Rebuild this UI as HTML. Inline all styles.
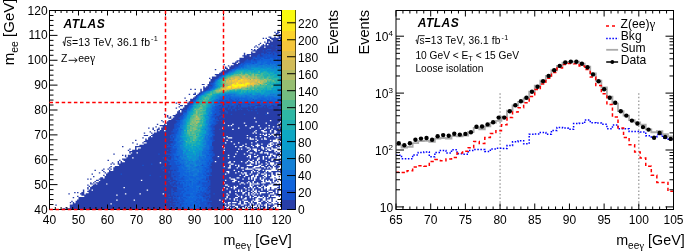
<!DOCTYPE html><html><head><meta charset="utf-8"><style>html,body{margin:0;padding:0;background:#fff;}svg{display:block}</style></head><body>
<svg xmlns="http://www.w3.org/2000/svg" width="685" height="252" viewBox="0 0 685 252" font-family="Liberation Sans, sans-serif" style="will-change:transform">
<g>
<path fill="#273da8" d="M62.55 208.26H65.45V209.50H62.55zM66.90 208.26H232.20V209.50H66.90zM233.65 208.26H238.00V209.50H233.65zM240.90 208.26H242.35V209.50H240.90zM245.25 208.26H246.70V209.50H245.25zM249.60 208.26H251.05V209.50H249.60zM252.50 208.26H253.95V209.50H252.50zM255.40 208.26H258.30V209.50H255.40zM259.75 208.26H264.10V209.50H259.75zM267.00 208.26H269.90V209.50H267.00zM271.35 208.26H275.70V209.50H271.35zM65.45 207.01H66.90V208.26H65.45zM69.80 207.01H226.40V208.26H69.80zM230.75 207.01H233.65V208.26H230.75zM235.10 207.01H236.55V208.26H235.10zM238.00 207.01H242.35V208.26H238.00zM243.80 207.01H245.25V208.26H243.80zM248.15 207.01H252.50V208.26H248.15zM253.95 207.01H256.85V208.26H253.95zM259.75 207.01H261.20V208.26H259.75zM262.65 207.01H265.55V208.26H262.65zM267.00 207.01H271.35V208.26H267.00zM272.80 207.01H274.25V208.26H272.80zM69.80 205.77H224.95V207.01H69.80zM226.40 205.77H227.85V207.01H226.40zM229.30 205.77H235.10V207.01H229.30zM238.00 205.77H245.25V207.01H238.00zM246.70 205.77H248.15V207.01H246.70zM249.60 205.77H251.05V207.01H249.60zM256.85 205.77H258.30V207.01H256.85zM259.75 205.77H265.55V207.01H259.75zM267.00 205.77H268.45V207.01H267.00zM269.90 205.77H272.80V207.01H269.90zM277.15 205.77H278.60V207.01H277.15zM280.05 205.77H281.50V207.01H280.05zM55.30 204.53H56.75V205.77H55.30zM69.80 204.53H229.30V205.77H69.80zM230.75 204.53H232.20V205.77H230.75zM235.10 204.53H240.90V205.77H235.10zM243.80 204.53H249.60V205.77H243.80zM251.05 204.53H255.40V205.77H251.05zM256.85 204.53H258.30V205.77H256.85zM259.75 204.53H261.20V205.77H259.75zM262.65 204.53H264.10V205.77H262.65zM267.00 204.53H274.25V205.77H267.00zM277.15 204.53H278.60V205.77H277.15zM280.05 204.53H281.50V205.77H280.05zM72.70 203.28H110.40V204.53H72.70zM111.85 203.28H224.95V204.53H111.85zM226.40 203.28H227.85V204.53H226.40zM229.30 203.28H238.00V204.53H229.30zM240.90 203.28H243.80V204.53H240.90zM246.70 203.28H249.60V204.53H246.70zM251.05 203.28H252.50V204.53H251.05zM253.95 203.28H256.85V204.53H253.95zM258.30 203.28H259.75V204.53H258.30zM261.20 203.28H265.55V204.53H261.20zM267.00 203.28H268.45V204.53H267.00zM271.35 203.28H272.80V204.53H271.35zM274.25 203.28H278.60V204.53H274.25zM69.80 202.04H71.25V203.28H69.80zM72.70 202.04H74.15V203.28H72.70zM75.60 202.04H223.50V203.28H75.60zM224.95 202.04H227.85V203.28H224.95zM230.75 202.04H232.20V203.28H230.75zM236.55 202.04H239.45V203.28H236.55zM240.90 202.04H243.80V203.28H240.90zM245.25 202.04H248.15V203.28H245.25zM249.60 202.04H251.05V203.28H249.60zM252.50 202.04H256.85V203.28H252.50zM261.20 202.04H267.00V203.28H261.20zM268.45 202.04H271.35V203.28H268.45zM277.15 202.04H278.60V203.28H277.15zM280.05 202.04H281.50V203.28H280.05zM71.25 200.79H72.70V202.04H71.25zM75.60 200.79H222.05V202.04H75.60zM223.50 200.79H239.45V202.04H223.50zM240.90 200.79H243.80V202.04H240.90zM248.15 200.79H251.05V202.04H248.15zM252.50 200.79H253.95V202.04H252.50zM258.30 200.79H261.20V202.04H258.30zM262.65 200.79H265.55V202.04H262.65zM267.00 200.79H268.45V202.04H267.00zM271.35 200.79H272.80V202.04H271.35zM275.70 200.79H277.15V202.04H275.70zM77.05 199.55H116.20V200.79H77.05zM117.65 199.55H133.60V200.79H117.65zM135.05 199.55H219.15V200.79H135.05zM220.60 199.55H233.65V200.79H220.60zM235.10 199.55H236.55V200.79H235.10zM238.00 199.55H242.35V200.79H238.00zM243.80 199.55H252.50V200.79H243.80zM253.95 199.55H255.40V200.79H253.95zM259.75 199.55H262.65V200.79H259.75zM265.55 199.55H267.00V200.79H265.55zM271.35 199.55H272.80V200.79H271.35zM78.50 198.31H224.95V199.55H78.50zM226.40 198.31H229.30V199.55H226.40zM230.75 198.31H233.65V199.55H230.75zM235.10 198.31H243.80V199.55H235.10zM246.70 198.31H255.40V199.55H246.70zM258.30 198.31H262.65V199.55H258.30zM265.55 198.31H269.90V199.55H265.55zM271.35 198.31H272.80V199.55H271.35zM280.05 198.31H281.50V199.55H280.05zM72.70 197.06H74.15V198.31H72.70zM78.50 197.06H226.40V198.31H78.50zM227.85 197.06H235.10V198.31H227.85zM238.00 197.06H240.90V198.31H238.00zM242.35 197.06H245.25V198.31H242.35zM246.70 197.06H249.60V198.31H246.70zM251.05 197.06H252.50V198.31H251.05zM253.95 197.06H256.85V198.31H253.95zM262.65 197.06H264.10V198.31H262.65zM265.55 197.06H267.00V198.31H265.55zM268.45 197.06H275.70V198.31H268.45zM77.05 195.82H78.50V197.06H77.05zM84.30 195.82H226.40V197.06H84.30zM227.85 195.82H238.00V197.06H227.85zM239.45 195.82H240.90V197.06H239.45zM242.35 195.82H249.60V197.06H242.35zM251.05 195.82H253.95V197.06H251.05zM256.85 195.82H258.30V197.06H256.85zM259.75 195.82H262.65V197.06H259.75zM264.10 195.82H268.45V197.06H264.10zM269.90 195.82H271.35V197.06H269.90zM278.60 195.82H280.05V197.06H278.60zM81.40 194.57H116.20V195.82H81.40zM117.65 194.57H227.85V195.82H117.65zM229.30 194.57H236.55V195.82H229.30zM238.00 194.57H245.25V195.82H238.00zM246.70 194.57H248.15V195.82H246.70zM249.60 194.57H252.50V195.82H249.60zM253.95 194.57H268.45V195.82H253.95zM269.90 194.57H274.25V195.82H269.90zM275.70 194.57H281.50V195.82H275.70zM68.35 193.33H69.80V194.57H68.35zM79.95 193.33H84.30V194.57H79.95zM85.75 193.33H124.90V194.57H85.75zM126.35 193.33H139.40V194.57H126.35zM140.85 193.33H162.60V194.57H140.85zM164.05 193.33H226.40V194.57H164.05zM227.85 193.33H235.10V194.57H227.85zM236.55 193.33H242.35V194.57H236.55zM243.80 193.33H248.15V194.57H243.80zM249.60 193.33H251.05V194.57H249.60zM252.50 193.33H253.95V194.57H252.50zM255.40 193.33H256.85V194.57H255.40zM258.30 193.33H259.75V194.57H258.30zM261.20 193.33H269.90V194.57H261.20zM274.25 193.33H278.60V194.57H274.25zM74.15 192.09H75.60V193.33H74.15zM77.05 192.09H78.50V193.33H77.05zM81.40 192.09H84.30V193.33H81.40zM88.65 192.09H229.30V193.33H88.65zM230.75 192.09H242.35V193.33H230.75zM245.25 192.09H248.15V193.33H245.25zM249.60 192.09H252.50V193.33H249.60zM253.95 192.09H255.40V193.33H253.95zM256.85 192.09H259.75V193.33H256.85zM265.55 192.09H267.00V193.33H265.55zM268.45 192.09H272.80V193.33H268.45zM274.25 192.09H275.70V193.33H274.25zM277.15 192.09H278.60V193.33H277.15zM82.85 190.84H84.30V192.09H82.85zM87.20 190.84H229.30V192.09H87.20zM230.75 190.84H235.10V192.09H230.75zM236.55 190.84H238.00V192.09H236.55zM239.45 190.84H240.90V192.09H239.45zM242.35 190.84H245.25V192.09H242.35zM246.70 190.84H251.05V192.09H246.70zM252.50 190.84H253.95V192.09H252.50zM256.85 190.84H258.30V192.09H256.85zM259.75 190.84H268.45V192.09H259.75zM272.80 190.84H275.70V192.09H272.80zM277.15 190.84H278.60V192.09H277.15zM82.85 189.60H84.30V190.84H82.85zM88.65 189.60H91.55V190.84H88.65zM93.00 189.60H146.65V190.84H93.00zM148.10 189.60H222.05V190.84H148.10zM223.50 189.60H238.00V190.84H223.50zM239.45 189.60H240.90V190.84H239.45zM242.35 189.60H248.15V190.84H242.35zM249.60 189.60H252.50V190.84H249.60zM253.95 189.60H255.40V190.84H253.95zM256.85 189.60H261.20V190.84H256.85zM262.65 189.60H267.00V190.84H262.65zM268.45 189.60H275.70V190.84H268.45zM277.15 189.60H281.50V190.84H277.15zM87.20 188.36H88.65V189.60H87.20zM90.10 188.36H226.40V189.60H90.10zM227.85 188.36H233.65V189.60H227.85zM235.10 188.36H245.25V189.60H235.10zM246.70 188.36H252.50V189.60H246.70zM253.95 188.36H261.20V189.60H253.95zM262.65 188.36H264.10V189.60H262.65zM265.55 188.36H267.00V189.60H265.55zM269.90 188.36H271.35V189.60H269.90zM274.25 188.36H277.15V189.60H274.25zM278.60 188.36H280.05V189.60H278.60zM87.20 187.11H88.65V188.36H87.20zM90.10 187.11H123.45V188.36H90.10zM124.90 187.11H223.50V188.36H124.90zM224.95 187.11H230.75V188.36H224.95zM232.20 187.11H233.65V188.36H232.20zM236.55 187.11H243.80V188.36H236.55zM245.25 187.11H248.15V188.36H245.25zM249.60 187.11H251.05V188.36H249.60zM252.50 187.11H253.95V188.36H252.50zM255.40 187.11H258.30V188.36H255.40zM261.20 187.11H264.10V188.36H261.20zM269.90 187.11H271.35V188.36H269.90zM277.15 187.11H280.05V188.36H277.15zM88.65 185.87H90.10V187.11H88.65zM91.55 185.87H227.85V187.11H91.55zM229.30 185.87H233.65V187.11H229.30zM235.10 185.87H236.55V187.11H235.10zM238.00 185.87H249.60V187.11H238.00zM252.50 185.87H256.85V187.11H252.50zM258.30 185.87H261.20V187.11H258.30zM262.65 185.87H264.10V187.11H262.65zM265.55 185.87H267.00V187.11H265.55zM278.60 185.87H280.05V187.11H278.60zM87.20 184.62H88.65V185.87H87.20zM93.00 184.62H224.95V185.87H93.00zM227.85 184.62H249.60V185.87H227.85zM251.05 184.62H252.50V185.87H251.05zM253.95 184.62H262.65V185.87H253.95zM264.10 184.62H268.45V185.87H264.10zM272.80 184.62H280.05V185.87H272.80zM90.10 183.38H93.00V184.62H90.10zM94.45 183.38H95.90V184.62H94.45zM97.35 183.38H106.05V184.62H97.35zM107.50 183.38H239.45V184.62H107.50zM240.90 183.38H243.80V184.62H240.90zM245.25 183.38H249.60V184.62H245.25zM252.50 183.38H253.95V184.62H252.50zM259.75 183.38H271.35V184.62H259.75zM274.25 183.38H277.15V184.62H274.25zM278.60 183.38H280.05V184.62H278.60zM90.10 182.14H91.55V183.38H90.10zM93.00 182.14H94.45V183.38H93.00zM95.90 182.14H223.50V183.38H95.90zM224.95 182.14H240.90V183.38H224.95zM243.80 182.14H246.70V183.38H243.80zM248.15 182.14H249.60V183.38H248.15zM251.05 182.14H252.50V183.38H251.05zM253.95 182.14H256.85V183.38H253.95zM258.30 182.14H261.20V183.38H258.30zM265.55 182.14H269.90V183.38H265.55zM271.35 182.14H274.25V183.38H271.35zM94.45 180.89H95.90V182.14H94.45zM98.80 180.89H232.20V182.14H98.80zM235.10 180.89H238.00V182.14H235.10zM239.45 180.89H248.15V182.14H239.45zM249.60 180.89H252.50V182.14H249.60zM253.95 180.89H262.65V182.14H253.95zM264.10 180.89H265.55V182.14H264.10zM271.35 180.89H272.80V182.14H271.35zM274.25 180.89H275.70V182.14H274.25zM277.15 180.89H278.60V182.14H277.15zM95.90 179.65H98.80V180.89H95.90zM100.25 179.65H140.85V180.89H100.25zM142.30 179.65H224.95V180.89H142.30zM226.40 179.65H233.65V180.89H226.40zM236.55 179.65H253.95V180.89H236.55zM255.40 179.65H261.20V180.89H255.40zM264.10 179.65H265.55V180.89H264.10zM267.00 179.65H268.45V180.89H267.00zM269.90 179.65H272.80V180.89H269.90zM274.25 179.65H277.15V180.89H274.25zM280.05 179.65H281.50V180.89H280.05zM87.20 178.41H88.65V179.65H87.20zM90.10 178.41H91.55V179.65H90.10zM98.80 178.41H230.75V179.65H98.80zM235.10 178.41H242.35V179.65H235.10zM243.80 178.41H248.15V179.65H243.80zM249.60 178.41H251.05V179.65H249.60zM252.50 178.41H253.95V179.65H252.50zM255.40 178.41H259.75V179.65H255.40zM261.20 178.41H262.65V179.65H261.20zM264.10 178.41H272.80V179.65H264.10zM275.70 178.41H277.15V179.65H275.70zM278.60 178.41H280.05V179.65H278.60zM100.25 177.16H103.15V178.41H100.25zM104.60 177.16H229.30V178.41H104.60zM230.75 177.16H236.55V178.41H230.75zM239.45 177.16H248.15V178.41H239.45zM249.60 177.16H251.05V178.41H249.60zM252.50 177.16H253.95V178.41H252.50zM256.85 177.16H259.75V178.41H256.85zM261.20 177.16H264.10V178.41H261.20zM265.55 177.16H269.90V178.41H265.55zM274.25 177.16H275.70V178.41H274.25zM93.00 175.92H94.45V177.16H93.00zM104.60 175.92H243.80V177.16H104.60zM245.25 175.92H251.05V177.16H245.25zM253.95 175.92H255.40V177.16H253.95zM256.85 175.92H262.65V177.16H256.85zM264.10 175.92H265.55V177.16H264.10zM267.00 175.92H271.35V177.16H267.00zM278.60 175.92H280.05V177.16H278.60zM103.15 174.68H104.60V175.92H103.15zM106.05 174.68H239.45V175.92H106.05zM240.90 174.68H245.25V175.92H240.90zM248.15 174.68H252.50V175.92H248.15zM253.95 174.68H255.40V175.92H253.95zM258.30 174.68H264.10V175.92H258.30zM267.00 174.68H268.45V175.92H267.00zM269.90 174.68H271.35V175.92H269.90zM274.25 174.68H275.70V175.92H274.25zM91.55 173.43H93.00V174.68H91.55zM106.05 173.43H224.95V174.68H106.05zM226.40 173.43H242.35V174.68H226.40zM243.80 173.43H245.25V174.68H243.80zM246.70 173.43H249.60V174.68H246.70zM251.05 173.43H256.85V174.68H251.05zM258.30 173.43H261.20V174.68H258.30zM264.10 173.43H265.55V174.68H264.10zM267.00 173.43H271.35V174.68H267.00zM272.80 173.43H275.70V174.68H272.80zM277.15 173.43H278.60V174.68H277.15zM98.80 172.19H100.25V173.43H98.80zM104.60 172.19H106.05V173.43H104.60zM107.50 172.19H227.85V173.43H107.50zM229.30 172.19H235.10V173.43H229.30zM236.55 172.19H240.90V173.43H236.55zM242.35 172.19H243.80V173.43H242.35zM246.70 172.19H251.05V173.43H246.70zM252.50 172.19H258.30V173.43H252.50zM259.75 172.19H264.10V173.43H259.75zM265.55 172.19H271.35V173.43H265.55zM272.80 172.19H275.70V173.43H272.80zM280.05 172.19H281.50V173.43H280.05zM103.15 170.94H104.60V172.19H103.15zM108.95 170.94H226.40V172.19H108.95zM229.30 170.94H238.00V172.19H229.30zM239.45 170.94H251.05V172.19H239.45zM252.50 170.94H253.95V172.19H252.50zM255.40 170.94H256.85V172.19H255.40zM258.30 170.94H265.55V172.19H258.30zM267.00 170.94H268.45V172.19H267.00zM271.35 170.94H281.50V172.19H271.35zM94.45 169.70H95.90V170.94H94.45zM101.70 169.70H103.15V170.94H101.70zM108.95 169.70H110.40V170.94H108.95zM113.30 169.70H233.65V170.94H113.30zM235.10 169.70H242.35V170.94H235.10zM243.80 169.70H252.50V170.94H243.80zM253.95 169.70H258.30V170.94H253.95zM259.75 169.70H262.65V170.94H259.75zM264.10 169.70H265.55V170.94H264.10zM277.15 169.70H278.60V170.94H277.15zM280.05 169.70H281.50V170.94H280.05zM103.15 168.46H104.60V169.70H103.15zM107.50 168.46H108.95V169.70H107.50zM110.40 168.46H111.85V169.70H110.40zM113.30 168.46H245.25V169.70H113.30zM252.50 168.46H255.40V169.70H252.50zM261.20 168.46H271.35V169.70H261.20zM275.70 168.46H277.15V169.70H275.70zM280.05 168.46H281.50V169.70H280.05zM108.95 167.21H110.40V168.46H108.95zM113.30 167.21H227.85V168.46H113.30zM230.75 167.21H236.55V168.46H230.75zM238.00 167.21H240.90V168.46H238.00zM243.80 167.21H246.70V168.46H243.80zM248.15 167.21H252.50V168.46H248.15zM255.40 167.21H264.10V168.46H255.40zM265.55 167.21H267.00V168.46H265.55zM268.45 167.21H269.90V168.46H268.45zM271.35 167.21H272.80V168.46H271.35zM275.70 167.21H278.60V168.46H275.70zM110.40 165.97H111.85V167.21H110.40zM114.75 165.97H223.50V167.21H114.75zM224.95 165.97H229.30V167.21H224.95zM230.75 165.97H238.00V167.21H230.75zM239.45 165.97H253.95V167.21H239.45zM259.75 165.97H261.20V167.21H259.75zM264.10 165.97H268.45V167.21H264.10zM269.90 165.97H272.80V167.21H269.90zM274.25 165.97H280.05V167.21H274.25zM119.10 164.72H229.30V165.97H119.10zM230.75 164.72H235.10V165.97H230.75zM236.55 164.72H238.00V165.97H236.55zM239.45 164.72H246.70V165.97H239.45zM252.50 164.72H258.30V165.97H252.50zM261.20 164.72H265.55V165.97H261.20zM267.00 164.72H271.35V165.97H267.00zM272.80 164.72H274.25V165.97H272.80zM275.70 164.72H278.60V165.97H275.70zM110.40 163.48H111.85V164.72H110.40zM113.30 163.48H114.75V164.72H113.30zM117.65 163.48H230.75V164.72H117.65zM233.65 163.48H249.60V164.72H233.65zM251.05 163.48H255.40V164.72H251.05zM256.85 163.48H261.20V164.72H256.85zM262.65 163.48H267.00V164.72H262.65zM268.45 163.48H269.90V164.72H268.45zM274.25 163.48H275.70V164.72H274.25zM277.15 163.48H281.50V164.72H277.15zM111.85 162.24H113.30V163.48H111.85zM117.65 162.24H119.10V163.48H117.65zM120.55 162.24H159.70V163.48H120.55zM161.15 162.24H227.85V163.48H161.15zM230.75 162.24H245.25V163.48H230.75zM246.70 162.24H251.05V163.48H246.70zM253.95 162.24H255.40V163.48H253.95zM256.85 162.24H258.30V163.48H256.85zM259.75 162.24H265.55V163.48H259.75zM267.00 162.24H269.90V163.48H267.00zM274.25 162.24H281.50V163.48H274.25zM117.65 160.99H119.10V162.24H117.65zM120.55 160.99H122.00V162.24H120.55zM124.90 160.99H214.80V162.24H124.90zM216.25 160.99H229.30V162.24H216.25zM230.75 160.99H233.65V162.24H230.75zM235.10 160.99H240.90V162.24H235.10zM242.35 160.99H246.70V162.24H242.35zM248.15 160.99H249.60V162.24H248.15zM252.50 160.99H255.40V162.24H252.50zM256.85 160.99H258.30V162.24H256.85zM259.75 160.99H268.45V162.24H259.75zM269.90 160.99H275.70V162.24H269.90zM278.60 160.99H281.50V162.24H278.60zM107.50 159.75H108.95V160.99H107.50zM119.10 159.75H120.55V160.99H119.10zM123.45 159.75H248.15V160.99H123.45zM249.60 159.75H252.50V160.99H249.60zM253.95 159.75H256.85V160.99H253.95zM258.30 159.75H265.55V160.99H258.30zM267.00 159.75H271.35V160.99H267.00zM272.80 159.75H280.05V160.99H272.80zM122.00 158.51H256.85V159.75H122.00zM259.75 158.51H262.65V159.75H259.75zM264.10 158.51H271.35V159.75H264.10zM274.25 158.51H275.70V159.75H274.25zM278.60 158.51H281.50V159.75H278.60zM126.35 157.26H132.15V158.51H126.35zM133.60 157.26H227.85V158.51H133.60zM229.30 157.26H249.60V158.51H229.30zM251.05 157.26H258.30V158.51H251.05zM259.75 157.26H262.65V158.51H259.75zM264.10 157.26H268.45V158.51H264.10zM269.90 157.26H277.15V158.51H269.90zM124.90 156.02H126.35V157.26H124.90zM127.80 156.02H217.70V157.26H127.80zM219.15 156.02H233.65V157.26H219.15zM235.10 156.02H246.70V157.26H235.10zM248.15 156.02H249.60V157.26H248.15zM251.05 156.02H253.95V157.26H251.05zM256.85 156.02H262.65V157.26H256.85zM264.10 156.02H265.55V157.26H264.10zM267.00 156.02H268.45V157.26H267.00zM271.35 156.02H274.25V157.26H271.35zM275.70 156.02H277.15V157.26H275.70zM278.60 156.02H280.05V157.26H278.60zM122.00 154.78H123.45V156.02H122.00zM124.90 154.78H126.35V156.02H124.90zM127.80 154.78H227.85V156.02H127.80zM229.30 154.78H248.15V156.02H229.30zM251.05 154.78H256.85V156.02H251.05zM258.30 154.78H269.90V156.02H258.30zM271.35 154.78H272.80V156.02H271.35zM275.70 154.78H278.60V156.02H275.70zM280.05 154.78H281.50V156.02H280.05zM113.30 153.53H114.75V154.78H113.30zM130.70 153.53H235.10V154.78H130.70zM236.55 153.53H243.80V154.78H236.55zM245.25 153.53H253.95V154.78H245.25zM255.40 153.53H267.00V154.78H255.40zM268.45 153.53H269.90V154.78H268.45zM272.80 153.53H280.05V154.78H272.80zM129.25 152.29H130.70V153.53H129.25zM132.15 152.29H136.50V153.53H132.15zM137.95 152.29H249.60V153.53H137.95zM252.50 152.29H259.75V153.53H252.50zM262.65 152.29H264.10V153.53H262.65zM268.45 152.29H275.70V153.53H268.45zM277.15 152.29H280.05V153.53H277.15zM129.25 151.04H236.55V152.29H129.25zM238.00 151.04H246.70V152.29H238.00zM248.15 151.04H255.40V152.29H248.15zM256.85 151.04H261.20V152.29H256.85zM262.65 151.04H274.25V152.29H262.65zM275.70 151.04H277.15V152.29H275.70zM280.05 151.04H281.50V152.29H280.05zM127.80 149.80H129.25V151.04H127.80zM132.15 149.80H223.50V151.04H132.15zM224.95 149.80H248.15V151.04H224.95zM249.60 149.80H253.95V151.04H249.60zM256.85 149.80H258.30V151.04H256.85zM259.75 149.80H265.55V151.04H259.75zM267.00 149.80H268.45V151.04H267.00zM271.35 149.80H274.25V151.04H271.35zM129.25 148.56H130.70V149.80H129.25zM135.05 148.56H136.50V149.80H135.05zM137.95 148.56H238.00V149.80H137.95zM239.45 148.56H240.90V149.80H239.45zM242.35 148.56H249.60V149.80H242.35zM251.05 148.56H252.50V149.80H251.05zM256.85 148.56H262.65V149.80H256.85zM264.10 148.56H267.00V149.80H264.10zM269.90 148.56H271.35V149.80H269.90zM277.15 148.56H280.05V149.80H277.15zM135.05 147.31H136.50V148.56H135.05zM140.85 147.31H223.50V148.56H140.85zM224.95 147.31H246.70V148.56H224.95zM249.60 147.31H261.20V148.56H249.60zM264.10 147.31H265.55V148.56H264.10zM267.00 147.31H271.35V148.56H267.00zM272.80 147.31H277.15V148.56H272.80zM122.00 146.07H123.45V147.31H122.00zM135.05 146.07H222.05V147.31H135.05zM223.50 146.07H235.10V147.31H223.50zM236.55 146.07H239.45V147.31H236.55zM242.35 146.07H245.25V147.31H242.35zM246.70 146.07H252.50V147.31H246.70zM253.95 146.07H256.85V147.31H253.95zM258.30 146.07H261.20V147.31H258.30zM262.65 146.07H267.00V147.31H262.65zM271.35 146.07H275.70V147.31H271.35zM277.15 146.07H280.05V147.31H277.15zM139.40 144.82H242.35V146.07H139.40zM243.80 144.82H251.05V146.07H243.80zM252.50 144.82H255.40V146.07H252.50zM259.75 144.82H267.00V146.07H259.75zM268.45 144.82H269.90V146.07H268.45zM272.80 144.82H278.60V146.07H272.80zM280.05 144.82H281.50V146.07H280.05zM136.50 143.58H137.95V144.82H136.50zM143.75 143.58H233.65V144.82H143.75zM235.10 143.58H245.25V144.82H235.10zM246.70 143.58H256.85V144.82H246.70zM258.30 143.58H261.20V144.82H258.30zM262.65 143.58H268.45V144.82H262.65zM271.35 143.58H272.80V144.82H271.35zM274.25 143.58H275.70V144.82H274.25zM277.15 143.58H281.50V144.82H277.15zM132.15 142.34H133.60V143.58H132.15zM142.30 142.34H143.75V143.58H142.30zM146.65 142.34H224.95V143.58H146.65zM226.40 142.34H238.00V143.58H226.40zM239.45 142.34H251.05V143.58H239.45zM252.50 142.34H269.90V143.58H252.50zM272.80 142.34H277.15V143.58H272.80zM278.60 142.34H281.50V143.58H278.60zM143.75 141.09H230.75V142.34H143.75zM232.20 141.09H255.40V142.34H232.20zM256.85 141.09H272.80V142.34H256.85zM278.60 141.09H280.05V142.34H278.60zM135.05 139.85H136.50V141.09H135.05zM145.20 139.85H226.40V141.09H145.20zM227.85 139.85H256.85V141.09H227.85zM258.30 139.85H269.90V141.09H258.30zM271.35 139.85H272.80V141.09H271.35zM280.05 139.85H281.50V141.09H280.05zM145.20 138.61H146.65V139.85H145.20zM148.10 138.61H249.60V139.85H148.10zM253.95 138.61H255.40V139.85H253.95zM256.85 138.61H261.20V139.85H256.85zM262.65 138.61H264.10V139.85H262.65zM267.00 138.61H275.70V139.85H267.00zM278.60 138.61H281.50V139.85H278.60zM142.30 137.36H143.75V138.61H142.30zM148.10 137.36H223.50V138.61H148.10zM224.95 137.36H227.85V138.61H224.95zM232.20 137.36H246.70V138.61H232.20zM248.15 137.36H249.60V138.61H248.15zM251.05 137.36H264.10V138.61H251.05zM265.55 137.36H281.50V138.61H265.55zM149.55 136.12H151.00V137.36H149.55zM152.45 136.12H226.40V137.36H152.45zM227.85 136.12H255.40V137.36H227.85zM256.85 136.12H259.75V137.36H256.85zM261.20 136.12H268.45V137.36H261.20zM269.90 136.12H274.25V137.36H269.90zM275.70 136.12H277.15V137.36H275.70zM278.60 136.12H281.50V137.36H278.60zM143.75 134.88H148.10V136.12H143.75zM151.00 134.88H246.70V136.12H151.00zM248.15 134.88H264.10V136.12H248.15zM267.00 134.88H269.90V136.12H267.00zM271.35 134.88H272.80V136.12H271.35zM274.25 134.88H277.15V136.12H274.25zM278.60 134.88H280.05V136.12H278.60zM152.45 133.63H259.75V134.88H152.45zM261.20 133.63H262.65V134.88H261.20zM264.10 133.63H265.55V134.88H264.10zM267.00 133.63H268.45V134.88H267.00zM269.90 133.63H271.35V134.88H269.90zM274.25 133.63H281.50V134.88H274.25zM143.75 132.39H145.20V133.63H143.75zM151.00 132.39H152.45V133.63H151.00zM153.90 132.39H252.50V133.63H153.90zM253.95 132.39H255.40V133.63H253.95zM256.85 132.39H274.25V133.63H256.85zM275.70 132.39H280.05V133.63H275.70zM149.55 131.14H151.00V132.39H149.55zM156.80 131.14H253.95V132.39H156.80zM255.40 131.14H262.65V132.39H255.40zM267.00 131.14H269.90V132.39H267.00zM271.35 131.14H274.25V132.39H271.35zM277.15 131.14H281.50V132.39H277.15zM153.90 129.90H155.35V131.14H153.90zM156.80 129.90H158.25V131.14H156.80zM159.70 129.90H164.05V131.14H159.70zM165.50 129.90H255.40V131.14H165.50zM256.85 129.90H261.20V131.14H256.85zM264.10 129.90H269.90V131.14H264.10zM271.35 129.90H274.25V131.14H271.35zM275.70 129.90H281.50V131.14H275.70zM152.45 128.66H153.90V129.90H152.45zM156.80 128.66H159.70V129.90H156.80zM161.15 128.66H232.20V129.90H161.15zM233.65 128.66H264.10V129.90H233.65zM265.55 128.66H271.35V129.90H265.55zM272.80 128.66H278.60V129.90H272.80zM280.05 128.66H281.50V129.90H280.05zM148.10 127.41H149.55V128.66H148.10zM152.45 127.41H153.90V128.66H152.45zM158.25 127.41H159.70V128.66H158.25zM161.15 127.41H222.05V128.66H161.15zM223.50 127.41H238.00V128.66H223.50zM239.45 127.41H249.60V128.66H239.45zM251.05 127.41H259.75V128.66H251.05zM261.20 127.41H265.55V128.66H261.20zM267.00 127.41H268.45V128.66H267.00zM269.90 127.41H281.50V128.66H269.90zM155.35 126.17H156.80V127.41H155.35zM162.60 126.17H251.05V127.41H162.60zM253.95 126.17H272.80V127.41H253.95zM274.25 126.17H277.15V127.41H274.25zM278.60 126.17H281.50V127.41H278.60zM159.70 124.92H227.85V126.17H159.70zM229.30 124.92H230.75V126.17H229.30zM232.20 124.92H245.25V126.17H232.20zM246.70 124.92H258.30V126.17H246.70zM259.75 124.92H268.45V126.17H259.75zM269.90 124.92H280.05V126.17H269.90zM156.80 123.68H158.25V124.92H156.80zM164.05 123.68H165.50V124.92H164.05zM166.95 123.68H232.20V124.92H166.95zM233.65 123.68H277.15V124.92H233.65zM278.60 123.68H281.50V124.92H278.60zM165.50 122.44H223.50V123.68H165.50zM224.95 122.44H243.80V123.68H224.95zM245.25 122.44H265.55V123.68H245.25zM267.00 122.44H278.60V123.68H267.00zM280.05 122.44H281.50V123.68H280.05zM162.60 121.19H164.05V122.44H162.60zM166.95 121.19H255.40V122.44H166.95zM256.85 121.19H280.05V122.44H256.85zM161.15 119.95H162.60V121.19H161.15zM168.40 119.95H269.90V121.19H168.40zM271.35 119.95H281.50V121.19H271.35zM171.30 118.71H281.50V119.95H171.30zM168.40 117.46H171.30V118.71H168.40zM172.75 117.46H253.95V118.71H172.75zM255.40 117.46H281.50V118.71H255.40zM166.95 116.22H168.40V117.46H166.95zM169.85 116.22H171.30V117.46H169.85zM174.20 116.22H281.50V117.46H174.20zM166.95 114.97H168.40V116.22H166.95zM172.75 114.97H280.05V116.22H172.75zM164.05 113.73H165.50V114.97H164.05zM175.65 113.73H281.50V114.97H175.65zM177.10 112.49H267.00V113.73H177.10zM268.45 112.49H281.50V113.73H268.45zM177.10 111.24H180.00V112.49H177.10zM181.45 111.24H281.50V112.49H181.45zM178.55 110.00H180.00V111.24H178.55zM181.45 110.00H281.50V111.24H181.45zM180.00 108.76H281.50V110.00H180.00zM175.65 107.51H177.10V108.76H175.65zM182.90 107.51H281.50V108.76H182.90zM178.55 106.27H180.00V107.51H178.55zM184.35 106.27H281.50V107.51H184.35zM180.00 105.03H182.90V106.27H180.00zM184.35 105.03H281.50V106.27H184.35zM178.55 103.78H180.00V105.03H178.55zM187.25 103.78H281.50V105.03H187.25zM175.65 102.54H177.10V103.78H175.65zM187.25 102.54H281.50V103.78H187.25zM188.70 101.29H281.50V102.54H188.70zM185.80 100.05H187.25V101.29H185.80zM190.15 100.05H281.50V101.29H190.15zM190.15 98.81H281.50V100.05H190.15zM184.35 97.56H185.80V98.81H184.35zM193.05 97.56H281.50V98.81H193.05zM194.50 96.32H281.50V97.56H194.50zM195.95 95.08H281.50V96.32H195.95zM188.70 93.83H190.15V95.08H188.70zM193.05 93.83H195.95V95.08H193.05zM197.40 93.83H281.50V95.08H197.40zM194.50 92.59H195.95V93.83H194.50zM198.85 92.59H281.50V93.83H198.85zM200.30 91.34H281.50V92.59H200.30zM200.30 90.10H201.75V91.34H200.30zM203.20 90.10H281.50V91.34H203.20zM190.15 88.86H191.60V90.10H190.15zM194.50 88.86H195.95V90.10H194.50zM200.30 88.86H201.75V90.10H200.30zM203.20 88.86H281.50V90.10H203.20zM203.20 87.61H281.50V88.86H203.20zM203.20 86.37H204.65V87.61H203.20zM206.10 86.37H281.50V87.61H206.10zM207.55 85.12H281.50V86.37H207.55zM201.75 83.88H204.65V85.12H201.75zM207.55 83.88H281.50V85.12H207.55zM209.00 82.64H281.50V83.88H209.00zM209.00 81.39H281.50V82.64H209.00zM210.45 80.15H281.50V81.39H210.45zM210.45 78.91H281.50V80.15H210.45zM209.00 77.66H210.45V78.91H209.00zM211.90 77.66H281.50V78.91H211.90zM211.90 76.42H281.50V77.66H211.90zM216.25 75.18H281.50V76.42H216.25zM214.80 73.93H281.50V75.18H214.80zM219.15 72.69H281.50V73.93H219.15zM220.60 71.44H281.50V72.69H220.60zM222.05 70.20H281.50V71.44H222.05zM214.80 68.96H216.25V70.20H214.80zM223.50 68.96H224.95V70.20H223.50zM226.40 68.96H281.50V70.20H226.40zM224.95 67.71H227.85V68.96H224.95zM229.30 67.71H281.50V68.96H229.30zM224.95 66.47H226.40V67.71H224.95zM229.30 66.47H281.50V67.71H229.30zM227.85 65.22H229.30V66.47H227.85zM230.75 65.22H281.50V66.47H230.75zM223.50 63.98H224.95V65.22H223.50zM233.65 63.98H281.50V65.22H233.65zM232.20 62.74H236.55V63.98H232.20zM238.00 62.74H281.50V63.98H238.00zM235.10 61.49H238.00V62.74H235.10zM239.45 61.49H281.50V62.74H239.45zM236.55 60.25H281.50V61.49H236.55zM239.45 59.01H281.50V60.25H239.45zM239.45 57.76H281.50V59.01H239.45zM243.80 56.52H281.50V57.76H243.80zM242.35 55.28H249.60V56.52H242.35zM251.05 55.28H281.50V56.52H251.05zM243.80 54.03H245.25V55.28H243.80zM246.70 54.03H281.50V55.28H246.70zM243.80 52.79H245.25V54.03H243.80zM251.05 52.79H281.50V54.03H251.05zM251.05 51.54H252.50V52.79H251.05zM255.40 51.54H281.50V52.79H255.40zM252.50 50.30H281.50V51.54H252.50zM251.05 49.06H252.50V50.30H251.05zM253.95 49.06H255.40V50.30H253.95zM256.85 49.06H281.50V50.30H256.85zM258.30 47.81H281.50V49.06H258.30zM253.95 46.57H255.40V47.81H253.95zM256.85 46.57H258.30V47.81H256.85zM259.75 46.57H264.10V47.81H259.75zM265.55 46.57H281.50V47.81H265.55zM255.40 45.32H256.85V46.57H255.40zM261.20 45.32H281.50V46.57H261.20zM258.30 44.08H259.75V45.32H258.30zM262.65 44.08H264.10V45.32H262.65zM265.55 44.08H267.00V45.32H265.55zM268.45 44.08H281.50V45.32H268.45zM259.75 42.84H261.20V44.08H259.75zM265.55 42.84H281.50V44.08H265.55zM264.10 41.59H265.55V42.84H264.10zM267.00 41.59H268.45V42.84H267.00zM269.90 41.59H281.50V42.84H269.90zM267.00 40.35H271.35V41.59H267.00zM272.80 40.35H281.50V41.59H272.80zM267.00 39.11H269.90V40.35H267.00zM271.35 39.11H278.60V40.35H271.35zM280.05 39.11H281.50V40.35H280.05zM262.65 37.86H264.10V39.11H262.65zM265.55 37.86H267.00V39.11H265.55zM269.90 37.86H281.50V39.11H269.90zM268.45 36.62H271.35V37.86H268.45zM274.25 36.62H275.70V37.86H274.25zM278.60 36.62H281.50V37.86H278.60zM277.15 35.38H280.05V36.62H277.15zM275.70 34.13H277.15V35.38H275.70zM278.60 34.13H281.50V35.38H278.60zM275.70 32.89H278.60V34.13H275.70zM274.25 31.64H275.70V32.89H274.25zM277.15 31.64H280.05V32.89H277.15zM277.15 30.40H278.60V31.64H277.15z"/>
<path fill="#1751cb" d="M171.30 208.26H172.75V209.50H171.30zM174.20 208.26H207.55V209.50H174.20zM209.00 208.26H210.45V209.50H209.00zM172.75 207.01H174.20V208.26H172.75zM177.10 207.01H209.00V208.26H177.10zM169.85 205.77H172.75V207.01H169.85zM174.20 205.77H211.90V207.01H174.20zM113.30 204.53H114.75V205.77H113.30zM175.65 204.53H180.00V205.77H175.65zM181.45 204.53H210.45V205.77H181.45zM169.85 203.28H171.30V204.53H169.85zM172.75 203.28H207.55V204.53H172.75zM209.00 203.28H210.45V204.53H209.00zM175.65 202.04H177.10V203.28H175.65zM178.55 202.04H207.55V203.28H178.55zM172.75 200.79H211.90V202.04H172.75zM166.95 199.55H168.40V200.79H166.95zM169.85 199.55H171.30V200.79H169.85zM174.20 199.55H175.65V200.79H174.20zM177.10 199.55H209.00V200.79H177.10zM172.75 198.31H174.20V199.55H172.75zM175.65 198.31H206.10V199.55H175.65zM207.55 198.31H209.00V199.55H207.55zM168.40 197.06H171.30V198.31H168.40zM172.75 197.06H207.55V198.31H172.75zM209.00 197.06H210.45V198.31H209.00zM172.75 195.82H174.20V197.06H172.75zM175.65 195.82H177.10V197.06H175.65zM178.55 195.82H203.20V197.06H178.55zM204.65 195.82H210.45V197.06H204.65zM168.40 194.57H169.85V195.82H168.40zM171.30 194.57H172.75V195.82H171.30zM174.20 194.57H206.10V195.82H174.20zM209.00 194.57H210.45V195.82H209.00zM164.05 193.33H165.50V194.57H164.05zM171.30 193.33H204.65V194.57H171.30zM206.10 193.33H209.00V194.57H206.10zM213.35 193.33H214.80V194.57H213.35zM171.30 192.09H172.75V193.33H171.30zM174.20 192.09H210.45V193.33H174.20zM171.30 190.84H174.20V192.09H171.30zM177.10 190.84H210.45V192.09H177.10zM171.30 189.60H172.75V190.84H171.30zM175.65 189.60H207.55V190.84H175.65zM209.00 189.60H210.45V190.84H209.00zM171.30 188.36H172.75V189.60H171.30zM177.10 188.36H209.00V189.60H177.10zM177.10 187.11H207.55V188.36H177.10zM209.00 187.11H210.45V188.36H209.00zM172.75 185.87H209.00V187.11H172.75zM165.50 184.62H166.95V185.87H165.50zM171.30 184.62H172.75V185.87H171.30zM174.20 184.62H175.65V185.87H174.20zM177.10 184.62H210.45V185.87H177.10zM169.85 183.38H171.30V184.62H169.85zM175.65 183.38H178.55V184.62H175.65zM180.00 183.38H210.45V184.62H180.00zM169.85 182.14H174.20V183.38H169.85zM175.65 182.14H210.45V183.38H175.65zM168.40 180.89H169.85V182.14H168.40zM172.75 180.89H175.65V182.14H172.75zM177.10 180.89H207.55V182.14H177.10zM209.00 180.89H210.45V182.14H209.00zM169.85 179.65H171.30V180.89H169.85zM175.65 179.65H210.45V180.89H175.65zM166.95 178.41H169.85V179.65H166.95zM172.75 178.41H206.10V179.65H172.75zM207.55 178.41H209.00V179.65H207.55zM168.40 177.16H169.85V178.41H168.40zM172.75 177.16H209.00V178.41H172.75zM159.70 175.92H161.15V177.16H159.70zM171.30 175.92H174.20V177.16H171.30zM175.65 175.92H209.00V177.16H175.65zM149.55 174.68H151.00V175.92H149.55zM171.30 174.68H211.90V175.92H171.30zM120.55 173.43H122.00V174.68H120.55zM171.30 173.43H172.75V174.68H171.30zM174.20 173.43H207.55V174.68H174.20zM209.00 173.43H210.45V174.68H209.00zM168.40 172.19H169.85V173.43H168.40zM171.30 172.19H210.45V173.43H171.30zM168.40 170.94H169.85V172.19H168.40zM171.30 170.94H211.90V172.19H171.30zM162.60 169.70H164.05V170.94H162.60zM172.75 169.70H174.20V170.94H172.75zM175.65 169.70H211.90V170.94H175.65zM169.85 168.46H211.90V169.70H169.85zM161.15 167.21H162.60V168.46H161.15zM169.85 167.21H210.45V168.46H169.85zM162.60 165.97H164.05V167.21H162.60zM171.30 165.97H210.45V167.21H171.30zM142.30 164.72H143.75V165.97H142.30zM171.30 164.72H211.90V165.97H171.30zM151.00 163.48H152.45V164.72H151.00zM165.50 163.48H166.95V164.72H165.50zM168.40 163.48H210.45V164.72H168.40zM165.50 162.24H166.95V163.48H165.50zM169.85 162.24H211.90V163.48H169.85zM168.40 160.99H213.35V162.24H168.40zM166.95 159.75H213.35V160.99H166.95zM165.50 158.51H168.40V159.75H165.50zM171.30 158.51H213.35V159.75H171.30zM162.60 157.26H164.05V158.51H162.60zM171.30 157.26H211.90V158.51H171.30zM217.70 157.26H219.15V158.51H217.70zM168.40 156.02H169.85V157.26H168.40zM171.30 156.02H213.35V157.26H171.30zM169.85 154.78H214.80V156.02H169.85zM158.25 153.53H159.70V154.78H158.25zM165.50 153.53H214.80V154.78H165.50zM164.05 152.29H166.95V153.53H164.05zM171.30 152.29H213.35V153.53H171.30zM169.85 151.04H213.35V152.29H169.85zM166.95 149.80H168.40V151.04H166.95zM171.30 149.80H211.90V151.04H171.30zM169.85 148.56H213.35V149.80H169.85zM171.30 147.31H213.35V148.56H171.30zM166.95 146.07H213.35V147.31H166.95zM168.40 144.82H169.85V146.07H168.40zM171.30 144.82H211.90V146.07H171.30zM166.95 143.58H168.40V144.82H166.95zM169.85 143.58H211.90V144.82H169.85zM172.75 142.34H211.90V143.58H172.75zM172.75 141.09H213.35V142.34H172.75zM169.85 139.85H214.80V141.09H169.85zM171.30 138.61H172.75V139.85H171.30zM174.20 138.61H213.35V139.85H174.20zM169.85 137.36H213.35V138.61H169.85zM169.85 136.12H171.30V137.36H169.85zM172.75 136.12H213.35V137.36H172.75zM169.85 134.88H214.80V136.12H169.85zM171.30 133.63H214.80V134.88H171.30zM174.20 132.39H213.35V133.63H174.20zM171.30 131.14H214.80V132.39H171.30zM172.75 129.90H213.35V131.14H172.75zM172.75 128.66H214.80V129.90H172.75zM219.15 128.66H220.60V129.90H219.15zM174.20 127.41H214.80V128.66H174.20zM174.20 126.17H213.35V127.41H174.20zM174.20 124.92H214.80V126.17H174.20zM174.20 123.68H216.25V124.92H174.20zM175.65 122.44H217.70V123.68H175.65zM177.10 121.19H216.25V122.44H177.10zM175.65 119.95H219.15V121.19H175.65zM220.60 119.95H222.05V121.19H220.60zM180.00 118.71H217.70V119.95H180.00zM178.55 117.46H214.80V118.71H178.55zM216.25 117.46H217.70V118.71H216.25zM219.15 117.46H220.60V118.71H219.15zM223.50 117.46H224.95V118.71H223.50zM180.00 116.22H216.25V117.46H180.00zM220.60 116.22H223.50V117.46H220.60zM181.45 114.97H219.15V116.22H181.45zM182.90 113.73H214.80V114.97H182.90zM216.25 113.73H220.60V114.97H216.25zM222.05 113.73H223.50V114.97H222.05zM230.75 113.73H232.20V114.97H230.75zM243.80 113.73H245.25V114.97H243.80zM265.55 113.73H267.00V114.97H265.55zM182.90 112.49H220.60V113.73H182.90zM226.40 112.49H227.85V113.73H226.40zM256.85 112.49H258.30V113.73H256.85zM182.90 111.24H184.35V112.49H182.90zM185.80 111.24H219.15V112.49H185.80zM224.95 111.24H227.85V112.49H224.95zM184.35 110.00H220.60V111.24H184.35zM224.95 110.00H226.40V111.24H224.95zM230.75 110.00H232.20V111.24H230.75zM235.10 110.00H236.55V111.24H235.10zM248.15 110.00H249.60V111.24H248.15zM251.05 110.00H252.50V111.24H251.05zM255.40 110.00H256.85V111.24H255.40zM187.25 108.76H219.15V110.00H187.25zM222.05 108.76H224.95V110.00H222.05zM227.85 108.76H229.30V110.00H227.85zM230.75 108.76H232.20V110.00H230.75zM235.10 108.76H236.55V110.00H235.10zM238.00 108.76H239.45V110.00H238.00zM240.90 108.76H242.35V110.00H240.90zM246.70 108.76H248.15V110.00H246.70zM278.60 108.76H280.05V110.00H278.60zM187.25 107.51H220.60V108.76H187.25zM222.05 107.51H224.95V108.76H222.05zM227.85 107.51H230.75V108.76H227.85zM232.20 107.51H235.10V108.76H232.20zM239.45 107.51H240.90V108.76H239.45zM251.05 107.51H252.50V108.76H251.05zM253.95 107.51H256.85V108.76H253.95zM268.45 107.51H272.80V108.76H268.45zM280.05 107.51H281.50V108.76H280.05zM188.70 106.27H222.05V107.51H188.70zM223.50 106.27H227.85V107.51H223.50zM229.30 106.27H230.75V107.51H229.30zM233.65 106.27H236.55V107.51H233.65zM238.00 106.27H239.45V107.51H238.00zM240.90 106.27H248.15V107.51H240.90zM249.60 106.27H251.05V107.51H249.60zM255.40 106.27H262.65V107.51H255.40zM264.10 106.27H265.55V107.51H264.10zM267.00 106.27H268.45V107.51H267.00zM271.35 106.27H272.80V107.51H271.35zM278.60 106.27H280.05V107.51H278.60zM188.70 105.03H219.15V106.27H188.70zM220.60 105.03H222.05V106.27H220.60zM223.50 105.03H227.85V106.27H223.50zM229.30 105.03H236.55V106.27H229.30zM238.00 105.03H239.45V106.27H238.00zM240.90 105.03H255.40V106.27H240.90zM261.20 105.03H264.10V106.27H261.20zM267.00 105.03H271.35V106.27H267.00zM274.25 105.03H277.15V106.27H274.25zM278.60 105.03H281.50V106.27H278.60zM190.15 103.78H223.50V105.03H190.15zM224.95 103.78H238.00V105.03H224.95zM240.90 103.78H248.15V105.03H240.90zM249.60 103.78H258.30V105.03H249.60zM259.75 103.78H281.50V105.03H259.75zM191.60 102.54H281.50V103.78H191.60zM193.05 101.29H281.50V102.54H193.05zM193.05 100.05H281.50V101.29H193.05zM194.50 98.81H281.50V100.05H194.50zM195.95 97.56H281.50V98.81H195.95zM197.40 96.32H281.50V97.56H197.40zM197.40 95.08H281.50V96.32H197.40zM200.30 93.83H281.50V95.08H200.30zM201.75 92.59H281.50V93.83H201.75zM203.20 91.34H281.50V92.59H203.20zM206.10 90.10H281.50V91.34H206.10zM207.55 88.86H281.50V90.10H207.55zM209.00 87.61H281.50V88.86H209.00zM209.00 86.37H281.50V87.61H209.00zM211.90 85.12H281.50V86.37H211.90zM210.45 83.88H281.50V85.12H210.45zM210.45 82.64H281.50V83.88H210.45zM213.35 81.39H281.50V82.64H213.35zM214.80 80.15H281.50V81.39H214.80zM214.80 78.91H281.50V80.15H214.80zM217.70 77.66H281.50V78.91H217.70zM219.15 76.42H281.50V77.66H219.15zM220.60 75.18H281.50V76.42H220.60zM222.05 73.93H281.50V75.18H222.05zM223.50 72.69H281.50V73.93H223.50zM227.85 71.44H281.50V72.69H227.85zM229.30 70.20H281.50V71.44H229.30zM230.75 68.96H281.50V70.20H230.75zM233.65 67.71H281.50V68.96H233.65zM235.10 66.47H281.50V67.71H235.10zM238.00 65.22H281.50V66.47H238.00zM239.45 63.98H281.50V65.22H239.45zM240.90 62.74H281.50V63.98H240.90zM243.80 61.49H281.50V62.74H243.80zM245.25 60.25H281.50V61.49H245.25zM246.70 59.01H248.15V60.25H246.70zM251.05 59.01H253.95V60.25H251.05zM255.40 59.01H281.50V60.25H255.40zM252.50 57.76H281.50V59.01H252.50zM252.50 56.52H255.40V57.76H252.50zM256.85 56.52H281.50V57.76H256.85zM256.85 55.28H259.75V56.52H256.85zM262.65 55.28H281.50V56.52H262.65zM258.30 54.03H259.75V55.28H258.30zM261.20 54.03H272.80V55.28H261.20zM274.25 54.03H281.50V55.28H274.25zM261.20 52.79H264.10V54.03H261.20zM265.55 52.79H267.00V54.03H265.55zM268.45 52.79H269.90V54.03H268.45zM271.35 52.79H272.80V54.03H271.35zM274.25 52.79H277.15V54.03H274.25zM278.60 52.79H281.50V54.03H278.60zM267.00 51.54H271.35V52.79H267.00zM272.80 51.54H275.70V52.79H272.80zM280.05 51.54H281.50V52.79H280.05zM262.65 50.30H264.10V51.54H262.65zM265.55 50.30H267.00V51.54H265.55zM267.00 49.06H271.35V50.30H267.00zM275.70 49.06H277.15V50.30H275.70zM278.60 49.06H280.05V50.30H278.60zM275.70 46.57H277.15V47.81H275.70zM271.35 45.32H272.80V46.57H271.35z"/>
<path fill="#1063dc" d="M181.45 208.26H182.90V209.50H181.45zM184.35 208.26H188.70V209.50H184.35zM190.15 208.26H203.20V209.50H190.15zM204.65 208.26H206.10V209.50H204.65zM184.35 207.01H198.85V208.26H184.35zM181.45 205.77H182.90V207.01H181.45zM184.35 205.77H187.25V207.01H184.35zM188.70 205.77H197.40V207.01H188.70zM198.85 205.77H200.30V207.01H198.85zM181.45 204.53H190.15V205.77H181.45zM191.60 204.53H197.40V205.77H191.60zM198.85 204.53H200.30V205.77H198.85zM184.35 203.28H185.80V204.53H184.35zM187.25 203.28H198.85V204.53H187.25zM204.65 203.28H206.10V204.53H204.65zM180.00 202.04H181.45V203.28H180.00zM182.90 202.04H195.95V203.28H182.90zM197.40 202.04H200.30V203.28H197.40zM184.35 200.79H194.50V202.04H184.35zM195.95 200.79H200.30V202.04H195.95zM201.75 200.79H203.20V202.04H201.75zM180.00 199.55H181.45V200.79H180.00zM184.35 199.55H195.95V200.79H184.35zM197.40 199.55H198.85V200.79H197.40zM201.75 199.55H206.10V200.79H201.75zM178.55 198.31H180.00V199.55H178.55zM182.90 198.31H185.80V199.55H182.90zM187.25 198.31H197.40V199.55H187.25zM198.85 198.31H200.30V199.55H198.85zM201.75 198.31H203.20V199.55H201.75zM178.55 197.06H180.00V198.31H178.55zM181.45 197.06H182.90V198.31H181.45zM185.80 197.06H203.20V198.31H185.80zM182.90 195.82H197.40V197.06H182.90zM198.85 195.82H201.75V197.06H198.85zM182.90 194.57H185.80V195.82H182.90zM190.15 194.57H195.95V195.82H190.15zM197.40 194.57H200.30V195.82H197.40zM180.00 193.33H181.45V194.57H180.00zM182.90 193.33H197.40V194.57H182.90zM200.30 193.33H201.75V194.57H200.30zM181.45 192.09H182.90V193.33H181.45zM184.35 192.09H200.30V193.33H184.35zM181.45 190.84H184.35V192.09H181.45zM185.80 190.84H197.40V192.09H185.80zM198.85 190.84H200.30V192.09H198.85zM201.75 190.84H203.20V192.09H201.75zM204.65 190.84H206.10V192.09H204.65zM184.35 189.60H187.25V190.84H184.35zM188.70 189.60H204.65V190.84H188.70zM178.55 188.36H182.90V189.60H178.55zM184.35 188.36H198.85V189.60H184.35zM200.30 188.36H201.75V189.60H200.30zM203.20 188.36H206.10V189.60H203.20zM177.10 187.11H178.55V188.36H177.10zM182.90 187.11H184.35V188.36H182.90zM185.80 187.11H198.85V188.36H185.80zM200.30 187.11H204.65V188.36H200.30zM206.10 187.11H207.55V188.36H206.10zM182.90 185.87H187.25V187.11H182.90zM188.70 185.87H201.75V187.11H188.70zM182.90 184.62H203.20V185.87H182.90zM204.65 184.62H206.10V185.87H204.65zM180.00 183.38H181.45V184.62H180.00zM182.90 183.38H197.40V184.62H182.90zM198.85 183.38H201.75V184.62H198.85zM177.10 182.14H178.55V183.38H177.10zM180.00 182.14H184.35V183.38H180.00zM185.80 182.14H198.85V183.38H185.80zM200.30 182.14H201.75V183.38H200.30zM181.45 180.89H182.90V182.14H181.45zM184.35 180.89H190.15V182.14H184.35zM191.60 180.89H198.85V182.14H191.60zM200.30 180.89H207.55V182.14H200.30zM178.55 179.65H204.65V180.89H178.55zM175.65 178.41H177.10V179.65H175.65zM184.35 178.41H201.75V179.65H184.35zM204.65 178.41H206.10V179.65H204.65zM178.55 177.16H181.45V178.41H178.55zM182.90 177.16H206.10V178.41H182.90zM180.00 175.92H182.90V177.16H180.00zM184.35 175.92H206.10V177.16H184.35zM178.55 174.68H204.65V175.92H178.55zM206.10 174.68H209.00V175.92H206.10zM180.00 173.43H203.20V174.68H180.00zM204.65 173.43H206.10V174.68H204.65zM180.00 172.19H206.10V173.43H180.00zM177.10 170.94H204.65V172.19H177.10zM206.10 170.94H209.00V172.19H206.10zM178.55 169.70H206.10V170.94H178.55zM207.55 169.70H209.00V170.94H207.55zM178.55 168.46H206.10V169.70H178.55zM178.55 167.21H204.65V168.46H178.55zM206.10 167.21H209.00V168.46H206.10zM177.10 165.97H207.55V167.21H177.10zM180.00 164.72H201.75V165.97H180.00zM203.20 164.72H209.00V165.97H203.20zM169.85 163.48H171.30V164.72H169.85zM175.65 163.48H180.00V164.72H175.65zM181.45 163.48H207.55V164.72H181.45zM209.00 163.48H210.45V164.72H209.00zM175.65 162.24H177.10V163.48H175.65zM178.55 162.24H207.55V163.48H178.55zM209.00 162.24H210.45V163.48H209.00zM174.20 160.99H209.00V162.24H174.20zM177.10 159.75H209.00V160.99H177.10zM210.45 159.75H211.90V160.99H210.45zM171.30 158.51H172.75V159.75H171.30zM174.20 158.51H210.45V159.75H174.20zM174.20 157.26H177.10V158.51H174.20zM178.55 157.26H211.90V158.51H178.55zM174.20 156.02H175.65V157.26H174.20zM178.55 156.02H210.45V157.26H178.55zM174.20 154.78H207.55V156.02H174.20zM209.00 154.78H210.45V156.02H209.00zM172.75 153.53H211.90V154.78H172.75zM175.65 152.29H209.00V153.53H175.65zM175.65 151.04H210.45V152.29H175.65zM175.65 149.80H209.00V151.04H175.65zM177.10 148.56H210.45V149.80H177.10zM172.75 147.31H210.45V148.56H172.75zM172.75 146.07H174.20V147.31H172.75zM175.65 146.07H210.45V147.31H175.65zM174.20 144.82H211.90V146.07H174.20zM171.30 143.58H172.75V144.82H171.30zM175.65 143.58H211.90V144.82H175.65zM175.65 142.34H211.90V143.58H175.65zM175.65 141.09H211.90V142.34H175.65zM174.20 139.85H211.90V141.09H174.20zM174.20 138.61H210.45V139.85H174.20zM175.65 137.36H210.45V138.61H175.65zM172.75 136.12H174.20V137.36H172.75zM175.65 136.12H211.90V137.36H175.65zM175.65 134.88H211.90V136.12H175.65zM175.65 133.63H213.35V134.88H175.65zM177.10 132.39H211.90V133.63H177.10zM177.10 131.14H211.90V132.39H177.10zM178.55 129.90H210.45V131.14H178.55zM175.65 128.66H177.10V129.90H175.65zM178.55 128.66H211.90V129.90H178.55zM177.10 127.41H211.90V128.66H177.10zM180.00 126.17H210.45V127.41H180.00zM178.55 124.92H210.45V126.17H178.55zM177.10 123.68H178.55V124.92H177.10zM180.00 123.68H211.90V124.92H180.00zM178.55 122.44H214.80V123.68H178.55zM180.00 121.19H213.35V122.44H180.00zM180.00 119.95H213.35V121.19H180.00zM181.45 118.71H214.80V119.95H181.45zM182.90 117.46H214.80V118.71H182.90zM182.90 116.22H211.90V117.46H182.90zM184.35 114.97H213.35V116.22H184.35zM182.90 113.73H213.35V114.97H182.90zM184.35 112.49H214.80V113.73H184.35zM187.25 111.24H213.35V112.49H187.25zM214.80 111.24H216.25V112.49H214.80zM187.25 110.00H214.80V111.24H187.25zM187.25 108.76H214.80V110.00H187.25zM188.70 107.51H216.25V108.76H188.70zM188.70 106.27H214.80V107.51H188.70zM255.40 106.27H256.85V107.51H255.40zM190.15 105.03H217.70V106.27H190.15zM191.60 103.78H220.60V105.03H191.60zM232.20 103.78H233.65V105.03H232.20zM269.90 103.78H271.35V105.03H269.90zM193.05 102.54H217.70V103.78H193.05zM233.65 102.54H235.10V103.78H233.65zM239.45 102.54H240.90V103.78H239.45zM249.60 102.54H251.05V103.78H249.60zM259.75 102.54H261.20V103.78H259.75zM268.45 102.54H271.35V103.78H268.45zM193.05 101.29H220.60V102.54H193.05zM240.90 101.29H243.80V102.54H240.90zM245.25 101.29H246.70V102.54H245.25zM248.15 101.29H249.60V102.54H248.15zM251.05 101.29H252.50V102.54H251.05zM255.40 101.29H259.75V102.54H255.40zM261.20 101.29H264.10V102.54H261.20zM265.55 101.29H267.00V102.54H265.55zM271.35 101.29H274.25V102.54H271.35zM278.60 101.29H280.05V102.54H278.60zM194.50 100.05H219.15V101.29H194.50zM223.50 100.05H224.95V101.29H223.50zM227.85 100.05H229.30V101.29H227.85zM233.65 100.05H236.55V101.29H233.65zM238.00 100.05H246.70V101.29H238.00zM248.15 100.05H255.40V101.29H248.15zM256.85 100.05H259.75V101.29H256.85zM262.65 100.05H267.00V101.29H262.65zM268.45 100.05H280.05V101.29H268.45zM195.95 98.81H222.05V100.05H195.95zM223.50 98.81H229.30V100.05H223.50zM232.20 98.81H235.10V100.05H232.20zM236.55 98.81H238.00V100.05H236.55zM239.45 98.81H252.50V100.05H239.45zM253.95 98.81H281.50V100.05H253.95zM197.40 97.56H229.30V98.81H197.40zM230.75 97.56H281.50V98.81H230.75zM197.40 96.32H281.50V97.56H197.40zM198.85 95.08H281.50V96.32H198.85zM200.30 93.83H281.50V95.08H200.30zM201.75 92.59H281.50V93.83H201.75zM204.65 91.34H281.50V92.59H204.65zM207.55 90.10H281.50V91.34H207.55zM210.45 88.86H281.50V90.10H210.45zM211.90 87.61H281.50V88.86H211.90zM213.35 86.37H281.50V87.61H213.35zM213.35 85.12H281.50V86.37H213.35zM213.35 83.88H281.50V85.12H213.35zM213.35 82.64H281.50V83.88H213.35zM214.80 81.39H281.50V82.64H214.80zM214.80 80.15H281.50V81.39H214.80zM216.25 78.91H281.50V80.15H216.25zM217.70 77.66H281.50V78.91H217.70zM219.15 76.42H281.50V77.66H219.15zM222.05 75.18H281.50V76.42H222.05zM223.50 73.93H281.50V75.18H223.50zM226.40 72.69H281.50V73.93H226.40zM229.30 71.44H281.50V72.69H229.30zM232.20 70.20H281.50V71.44H232.20zM232.20 68.96H281.50V70.20H232.20zM236.55 67.71H281.50V68.96H236.55zM239.45 66.47H281.50V67.71H239.45zM239.45 65.22H240.90V66.47H239.45zM242.35 65.22H281.50V66.47H242.35zM240.90 63.98H242.35V65.22H240.90zM243.80 63.98H281.50V65.22H243.80zM245.25 62.74H252.50V63.98H245.25zM253.95 62.74H281.50V63.98H253.95zM251.05 61.49H255.40V62.74H251.05zM256.85 61.49H281.50V62.74H256.85zM251.05 60.25H252.50V61.49H251.05zM256.85 60.25H269.90V61.49H256.85zM271.35 60.25H277.15V61.49H271.35zM280.05 60.25H281.50V61.49H280.05zM259.75 59.01H261.20V60.25H259.75zM262.65 59.01H277.15V60.25H262.65zM278.60 59.01H280.05V60.25H278.60zM255.40 57.76H256.85V59.01H255.40zM261.20 57.76H264.10V59.01H261.20zM269.90 57.76H272.80V59.01H269.90zM275.70 57.76H277.15V59.01H275.70zM265.55 56.52H267.00V57.76H265.55zM268.45 55.28H269.90V56.52H268.45z"/>
<path fill="#1271d9" d="M190.15 208.26H191.60V209.50H190.15zM193.05 207.01H194.50V208.26H193.05zM191.60 205.77H193.05V207.01H191.60zM198.85 204.53H200.30V205.77H198.85zM193.05 203.28H194.50V204.53H193.05zM190.15 200.79H193.05V202.04H190.15zM185.80 199.55H187.25V200.79H185.80zM194.50 199.55H195.95V200.79H194.50zM188.70 197.06H190.15V198.31H188.70zM191.60 197.06H193.05V198.31H191.60zM190.15 195.82H191.60V197.06H190.15zM193.05 195.82H194.50V197.06H193.05zM190.15 193.33H193.05V194.57H190.15zM193.05 190.84H194.50V192.09H193.05zM195.95 190.84H197.40V192.09H195.95zM197.40 189.60H198.85V190.84H197.40zM184.35 188.36H185.80V189.60H184.35zM195.95 188.36H197.40V189.60H195.95zM200.30 188.36H201.75V189.60H200.30zM191.60 187.11H193.05V188.36H191.60zM197.40 187.11H198.85V188.36H197.40zM190.15 185.87H191.60V187.11H190.15zM195.95 185.87H200.30V187.11H195.95zM185.80 184.62H187.25V185.87H185.80zM188.70 184.62H190.15V185.87H188.70zM191.60 184.62H193.05V185.87H191.60zM188.70 183.38H190.15V184.62H188.70zM191.60 183.38H193.05V184.62H191.60zM182.90 182.14H184.35V183.38H182.90zM185.80 182.14H187.25V183.38H185.80zM191.60 182.14H193.05V183.38H191.60zM194.50 182.14H195.95V183.38H194.50zM191.60 180.89H194.50V182.14H191.60zM195.95 180.89H197.40V182.14H195.95zM185.80 179.65H188.70V180.89H185.80zM190.15 179.65H193.05V180.89H190.15zM194.50 179.65H195.95V180.89H194.50zM188.70 178.41H194.50V179.65H188.70zM195.95 178.41H200.30V179.65H195.95zM188.70 177.16H190.15V178.41H188.70zM195.95 177.16H198.85V178.41H195.95zM200.30 177.16H203.20V178.41H200.30zM187.25 175.92H188.70V177.16H187.25zM193.05 175.92H195.95V177.16H193.05zM184.35 174.68H187.25V175.92H184.35zM188.70 174.68H198.85V175.92H188.70zM201.75 174.68H203.20V175.92H201.75zM182.90 173.43H184.35V174.68H182.90zM188.70 173.43H191.60V174.68H188.70zM193.05 173.43H197.40V174.68H193.05zM185.80 172.19H187.25V173.43H185.80zM188.70 172.19H190.15V173.43H188.70zM191.60 172.19H198.85V173.43H191.60zM200.30 172.19H201.75V173.43H200.30zM184.35 170.94H201.75V172.19H184.35zM185.80 169.70H187.25V170.94H185.80zM188.70 169.70H198.85V170.94H188.70zM200.30 169.70H201.75V170.94H200.30zM182.90 168.46H203.20V169.70H182.90zM181.45 167.21H184.35V168.46H181.45zM187.25 167.21H195.95V168.46H187.25zM197.40 167.21H201.75V168.46H197.40zM181.45 165.97H182.90V167.21H181.45zM184.35 165.97H197.40V167.21H184.35zM198.85 165.97H203.20V167.21H198.85zM204.65 165.97H206.10V167.21H204.65zM184.35 164.72H200.30V165.97H184.35zM181.45 163.48H182.90V164.72H181.45zM184.35 163.48H201.75V164.72H184.35zM203.20 163.48H206.10V164.72H203.20zM180.00 162.24H204.65V163.48H180.00zM180.00 160.99H206.10V162.24H180.00zM178.55 159.75H181.45V160.99H178.55zM182.90 159.75H201.75V160.99H182.90zM203.20 159.75H204.65V160.99H203.20zM175.65 158.51H177.10V159.75H175.65zM181.45 158.51H204.65V159.75H181.45zM206.10 158.51H207.55V159.75H206.10zM178.55 157.26H206.10V158.51H178.55zM180.00 156.02H203.20V157.26H180.00zM204.65 156.02H206.10V157.26H204.65zM177.10 154.78H178.55V156.02H177.10zM180.00 154.78H206.10V156.02H180.00zM177.10 153.53H206.10V154.78H177.10zM207.55 153.53H209.00V154.78H207.55zM178.55 152.29H204.65V153.53H178.55zM206.10 152.29H207.55V153.53H206.10zM177.10 151.04H207.55V152.29H177.10zM178.55 149.80H206.10V151.04H178.55zM177.10 148.56H209.00V149.80H177.10zM177.10 147.31H209.00V148.56H177.10zM178.55 146.07H209.00V147.31H178.55zM174.20 144.82H175.65V146.07H174.20zM177.10 144.82H209.00V146.07H177.10zM175.65 143.58H177.10V144.82H175.65zM178.55 143.58H207.55V144.82H178.55zM177.10 142.34H207.55V143.58H177.10zM177.10 141.09H207.55V142.34H177.10zM175.65 139.85H177.10V141.09H175.65zM178.55 139.85H209.00V141.09H178.55zM175.65 138.61H177.10V139.85H175.65zM178.55 138.61H209.00V139.85H178.55zM177.10 137.36H207.55V138.61H177.10zM177.10 136.12H207.55V137.36H177.10zM209.00 136.12H210.45V137.36H209.00zM177.10 134.88H209.00V136.12H177.10zM210.45 134.88H211.90V136.12H210.45zM178.55 133.63H209.00V134.88H178.55zM178.55 132.39H210.45V133.63H178.55zM178.55 131.14H209.00V132.39H178.55zM178.55 129.90H210.45V131.14H178.55zM178.55 128.66H180.00V129.90H178.55zM181.45 128.66H210.45V129.90H181.45zM178.55 127.41H210.45V128.66H178.55zM180.00 126.17H209.00V127.41H180.00zM180.00 124.92H210.45V126.17H180.00zM180.00 123.68H210.45V124.92H180.00zM181.45 122.44H209.00V123.68H181.45zM181.45 121.19H210.45V122.44H181.45zM181.45 119.95H211.90V121.19H181.45zM182.90 118.71H210.45V119.95H182.90zM184.35 117.46H210.45V118.71H184.35zM184.35 116.22H210.45V117.46H184.35zM184.35 114.97H211.90V116.22H184.35zM185.80 113.73H210.45V114.97H185.80zM187.25 112.49H211.90V113.73H187.25zM187.25 111.24H211.90V112.49H187.25zM187.25 110.00H211.90V111.24H187.25zM190.15 108.76H213.35V110.00H190.15zM190.15 107.51H211.90V108.76H190.15zM191.60 106.27H213.35V107.51H191.60zM191.60 105.03H214.80V106.27H191.60zM193.05 103.78H214.80V105.03H193.05zM193.05 102.54H216.25V103.78H193.05zM195.95 101.29H216.25V102.54H195.95zM195.95 100.05H217.70V101.29H195.95zM264.10 100.05H265.55V101.29H264.10zM274.25 100.05H277.15V101.29H274.25zM278.60 100.05H280.05V101.29H278.60zM195.95 98.81H216.25V100.05H195.95zM217.70 98.81H219.15V100.05H217.70zM239.45 98.81H240.90V100.05H239.45zM242.35 98.81H243.80V100.05H242.35zM248.15 98.81H249.60V100.05H248.15zM251.05 98.81H252.50V100.05H251.05zM253.95 98.81H255.40V100.05H253.95zM267.00 98.81H268.45V100.05H267.00zM269.90 98.81H271.35V100.05H269.90zM277.15 98.81H278.60V100.05H277.15zM197.40 97.56H220.60V98.81H197.40zM230.75 97.56H232.20V98.81H230.75zM246.70 97.56H251.05V98.81H246.70zM252.50 97.56H258.30V98.81H252.50zM259.75 97.56H261.20V98.81H259.75zM265.55 97.56H268.45V98.81H265.55zM269.90 97.56H272.80V98.81H269.90zM275.70 97.56H277.15V98.81H275.70zM198.85 96.32H222.05V97.56H198.85zM224.95 96.32H226.40V97.56H224.95zM227.85 96.32H229.30V97.56H227.85zM232.20 96.32H271.35V97.56H232.20zM272.80 96.32H280.05V97.56H272.80zM200.30 95.08H224.95V96.32H200.30zM226.40 95.08H227.85V96.32H226.40zM229.30 95.08H281.50V96.32H229.30zM201.75 93.83H281.50V95.08H201.75zM203.20 92.59H281.50V93.83H203.20zM206.10 91.34H281.50V92.59H206.10zM210.45 90.10H281.50V91.34H210.45zM210.45 88.86H281.50V90.10H210.45zM213.35 87.61H281.50V88.86H213.35zM213.35 86.37H281.50V87.61H213.35zM214.80 85.12H281.50V86.37H214.80zM214.80 83.88H281.50V85.12H214.80zM214.80 82.64H281.50V83.88H214.80zM214.80 81.39H281.50V82.64H214.80zM216.25 80.15H281.50V81.39H216.25zM217.70 78.91H281.50V80.15H217.70zM219.15 77.66H281.50V78.91H219.15zM220.60 76.42H281.50V77.66H220.60zM223.50 75.18H281.50V76.42H223.50zM224.95 73.93H281.50V75.18H224.95zM227.85 72.69H281.50V73.93H227.85zM229.30 71.44H281.50V72.69H229.30zM232.20 70.20H281.50V71.44H232.20zM236.55 68.96H281.50V70.20H236.55zM238.00 67.71H281.50V68.96H238.00zM243.80 66.47H278.60V67.71H243.80zM280.05 66.47H281.50V67.71H280.05zM243.80 65.22H280.05V66.47H243.80zM246.70 63.98H248.15V65.22H246.70zM249.60 63.98H259.75V65.22H249.60zM262.65 63.98H268.45V65.22H262.65zM269.90 63.98H275.70V65.22H269.90zM277.15 63.98H280.05V65.22H277.15zM256.85 62.74H261.20V63.98H256.85zM262.65 62.74H265.55V63.98H262.65zM269.90 62.74H271.35V63.98H269.90zM272.80 62.74H274.25V63.98H272.80zM275.70 62.74H277.15V63.98H275.70zM280.05 62.74H281.50V63.98H280.05zM258.30 61.49H261.20V62.74H258.30zM264.10 61.49H267.00V62.74H264.10zM271.35 60.25H272.80V61.49H271.35z"/>
<path fill="#1480d6" d="M193.05 174.68H194.50V175.92H193.05zM194.50 173.43H197.40V174.68H194.50zM188.70 170.94H190.15V172.19H188.70zM197.40 170.94H198.85V172.19H197.40zM191.60 169.70H194.50V170.94H191.60zM197.40 169.70H198.85V170.94H197.40zM187.25 168.46H190.15V169.70H187.25zM193.05 168.46H197.40V169.70H193.05zM188.70 167.21H190.15V168.46H188.70zM191.60 167.21H193.05V168.46H191.60zM185.80 165.97H191.60V167.21H185.80zM193.05 165.97H195.95V167.21H193.05zM185.80 164.72H190.15V165.97H185.80zM194.50 164.72H197.40V165.97H194.50zM198.85 164.72H200.30V165.97H198.85zM184.35 163.48H185.80V164.72H184.35zM188.70 163.48H190.15V164.72H188.70zM191.60 163.48H195.95V164.72H191.60zM197.40 163.48H198.85V164.72H197.40zM200.30 163.48H201.75V164.72H200.30zM185.80 162.24H187.25V163.48H185.80zM188.70 162.24H195.95V163.48H188.70zM184.35 160.99H188.70V162.24H184.35zM190.15 160.99H191.60V162.24H190.15zM193.05 160.99H195.95V162.24H193.05zM198.85 160.99H200.30V162.24H198.85zM185.80 159.75H187.25V160.99H185.80zM188.70 159.75H197.40V160.99H188.70zM198.85 159.75H200.30V160.99H198.85zM181.45 158.51H182.90V159.75H181.45zM184.35 158.51H198.85V159.75H184.35zM181.45 157.26H198.85V158.51H181.45zM201.75 157.26H203.20V158.51H201.75zM180.00 156.02H181.45V157.26H180.00zM182.90 156.02H184.35V157.26H182.90zM185.80 156.02H198.85V157.26H185.80zM200.30 156.02H201.75V157.26H200.30zM204.65 156.02H206.10V157.26H204.65zM182.90 154.78H204.65V156.02H182.90zM182.90 153.53H201.75V154.78H182.90zM182.90 152.29H201.75V153.53H182.90zM182.90 151.04H201.75V152.29H182.90zM182.90 149.80H203.20V151.04H182.90zM181.45 148.56H203.20V149.80H181.45zM180.00 147.31H204.65V148.56H180.00zM180.00 146.07H206.10V147.31H180.00zM180.00 144.82H204.65V146.07H180.00zM182.90 143.58H206.10V144.82H182.90zM181.45 142.34H203.20V143.58H181.45zM204.65 142.34H206.10V143.58H204.65zM178.55 141.09H181.45V142.34H178.55zM182.90 141.09H206.10V142.34H182.90zM180.00 139.85H206.10V141.09H180.00zM181.45 138.61H204.65V139.85H181.45zM181.45 137.36H204.65V138.61H181.45zM206.10 137.36H207.55V138.61H206.10zM180.00 136.12H204.65V137.36H180.00zM206.10 136.12H207.55V137.36H206.10zM180.00 134.88H206.10V136.12H180.00zM181.45 133.63H209.00V134.88H181.45zM181.45 132.39H207.55V133.63H181.45zM181.45 131.14H207.55V132.39H181.45zM181.45 129.90H207.55V131.14H181.45zM182.90 128.66H204.65V129.90H182.90zM206.10 128.66H207.55V129.90H206.10zM181.45 127.41H209.00V128.66H181.45zM180.00 126.17H181.45V127.41H180.00zM182.90 126.17H207.55V127.41H182.90zM181.45 124.92H207.55V126.17H181.45zM182.90 123.68H207.55V124.92H182.90zM209.00 123.68H210.45V124.92H209.00zM182.90 122.44H209.00V123.68H182.90zM182.90 121.19H209.00V122.44H182.90zM182.90 119.95H209.00V121.19H182.90zM184.35 118.71H209.00V119.95H184.35zM185.80 117.46H210.45V118.71H185.80zM185.80 116.22H209.00V117.46H185.80zM187.25 114.97H207.55V116.22H187.25zM209.00 114.97H210.45V116.22H209.00zM187.25 113.73H210.45V114.97H187.25zM187.25 112.49H209.00V113.73H187.25zM210.45 112.49H211.90V113.73H210.45zM187.25 111.24H210.45V112.49H187.25zM190.15 110.00H210.45V111.24H190.15zM190.15 108.76H210.45V110.00H190.15zM191.60 107.51H211.90V108.76H191.60zM193.05 106.27H211.90V107.51H193.05zM191.60 105.03H211.90V106.27H191.60zM213.35 105.03H214.80V106.27H213.35zM193.05 103.78H213.35V105.03H193.05zM194.50 102.54H213.35V103.78H194.50zM195.95 101.29H214.80V102.54H195.95zM195.95 100.05H214.80V101.29H195.95zM197.40 98.81H216.25V100.05H197.40zM198.85 97.56H219.15V98.81H198.85zM252.50 97.56H253.95V98.81H252.50zM255.40 97.56H256.85V98.81H255.40zM198.85 96.32H219.15V97.56H198.85zM239.45 96.32H240.90V97.56H239.45zM242.35 96.32H245.25V97.56H242.35zM249.60 96.32H253.95V97.56H249.60zM258.30 96.32H259.75V97.56H258.30zM264.10 96.32H265.55V97.56H264.10zM274.25 96.32H275.70V97.56H274.25zM277.15 96.32H278.60V97.56H277.15zM201.75 95.08H223.50V96.32H201.75zM230.75 95.08H233.65V96.32H230.75zM235.10 95.08H245.25V96.32H235.10zM246.70 95.08H256.85V96.32H246.70zM258.30 95.08H262.65V96.32H258.30zM264.10 95.08H277.15V96.32H264.10zM280.05 95.08H281.50V96.32H280.05zM203.20 93.83H224.95V95.08H203.20zM226.40 93.83H227.85V95.08H226.40zM232.20 93.83H233.65V95.08H232.20zM235.10 93.83H249.60V95.08H235.10zM251.05 93.83H269.90V95.08H251.05zM271.35 93.83H272.80V95.08H271.35zM274.25 93.83H280.05V95.08H274.25zM204.65 92.59H278.60V93.83H204.65zM206.10 91.34H281.50V92.59H206.10zM210.45 90.10H278.60V91.34H210.45zM280.05 90.10H281.50V91.34H280.05zM211.90 88.86H281.50V90.10H211.90zM214.80 87.61H281.50V88.86H214.80zM216.25 86.37H281.50V87.61H216.25zM214.80 85.12H281.50V86.37H214.80zM216.25 83.88H281.50V85.12H216.25zM214.80 82.64H281.50V83.88H214.80zM216.25 81.39H281.50V82.64H216.25zM217.70 80.15H281.50V81.39H217.70zM219.15 78.91H281.50V80.15H219.15zM220.60 77.66H281.50V78.91H220.60zM222.05 76.42H281.50V77.66H222.05zM224.95 75.18H281.50V76.42H224.95zM226.40 73.93H281.50V75.18H226.40zM227.85 72.69H281.50V73.93H227.85zM232.20 71.44H281.50V72.69H232.20zM235.10 70.20H281.50V71.44H235.10zM236.55 68.96H281.50V70.20H236.55zM240.90 67.71H242.35V68.96H240.90zM243.80 67.71H281.50V68.96H243.80zM246.70 66.47H261.20V67.71H246.70zM262.65 66.47H267.00V67.71H262.65zM268.45 66.47H272.80V67.71H268.45zM274.25 66.47H275.70V67.71H274.25zM277.15 66.47H278.60V67.71H277.15zM280.05 66.47H281.50V67.71H280.05zM246.70 65.22H249.60V66.47H246.70zM251.05 65.22H255.40V66.47H251.05zM258.30 65.22H265.55V66.47H258.30zM267.00 65.22H269.90V66.47H267.00zM271.35 65.22H274.25V66.47H271.35zM277.15 65.22H280.05V66.47H277.15zM255.40 63.98H256.85V65.22H255.40zM265.55 63.98H267.00V65.22H265.55zM269.90 63.98H271.35V65.22H269.90zM274.25 63.98H275.70V65.22H274.25zM277.15 63.98H280.05V65.22H277.15z"/>
<path fill="#0e8ed1" d="M187.25 164.72H188.70V165.97H187.25zM194.50 164.72H197.40V165.97H194.50zM194.50 163.48H195.95V164.72H194.50zM185.80 162.24H187.25V163.48H185.80zM190.15 162.24H191.60V163.48H190.15zM193.05 160.99H194.50V162.24H193.05zM188.70 159.75H190.15V160.99H188.70zM191.60 159.75H194.50V160.99H191.60zM187.25 158.51H190.15V159.75H187.25zM191.60 158.51H195.95V159.75H191.60zM197.40 158.51H198.85V159.75H197.40zM184.35 157.26H185.80V158.51H184.35zM188.70 157.26H197.40V158.51H188.70zM187.25 156.02H198.85V157.26H187.25zM187.25 154.78H195.95V156.02H187.25zM197.40 154.78H198.85V156.02H197.40zM200.30 154.78H201.75V156.02H200.30zM185.80 153.53H198.85V154.78H185.80zM200.30 153.53H201.75V154.78H200.30zM182.90 152.29H184.35V153.53H182.90zM185.80 152.29H198.85V153.53H185.80zM200.30 152.29H201.75V153.53H200.30zM184.35 151.04H185.80V152.29H184.35zM187.25 151.04H201.75V152.29H187.25zM182.90 149.80H185.80V151.04H182.90zM187.25 149.80H203.20V151.04H187.25zM181.45 148.56H182.90V149.80H181.45zM184.35 148.56H203.20V149.80H184.35zM182.90 147.31H201.75V148.56H182.90zM182.90 146.07H204.65V147.31H182.90zM180.00 144.82H203.20V146.07H180.00zM182.90 143.58H206.10V144.82H182.90zM181.45 142.34H203.20V143.58H181.45zM182.90 141.09H204.65V142.34H182.90zM180.00 139.85H204.65V141.09H180.00zM182.90 138.61H203.20V139.85H182.90zM181.45 137.36H204.65V138.61H181.45zM180.00 136.12H204.65V137.36H180.00zM182.90 134.88H204.65V136.12H182.90zM181.45 133.63H204.65V134.88H181.45zM181.45 132.39H206.10V133.63H181.45zM181.45 131.14H206.10V132.39H181.45zM182.90 129.90H206.10V131.14H182.90zM182.90 128.66H204.65V129.90H182.90zM206.10 128.66H207.55V129.90H206.10zM181.45 127.41H207.55V128.66H181.45zM182.90 126.17H206.10V127.41H182.90zM182.90 124.92H207.55V126.17H182.90zM184.35 123.68H207.55V124.92H184.35zM184.35 122.44H206.10V123.68H184.35zM185.80 121.19H206.10V122.44H185.80zM184.35 119.95H206.10V121.19H184.35zM184.35 118.71H207.55V119.95H184.35zM185.80 117.46H206.10V118.71H185.80zM207.55 117.46H209.00V118.71H207.55zM187.25 116.22H209.00V117.46H187.25zM187.25 114.97H207.55V116.22H187.25zM188.70 113.73H207.55V114.97H188.70zM188.70 112.49H209.00V113.73H188.70zM210.45 112.49H211.90V113.73H210.45zM188.70 111.24H209.00V112.49H188.70zM190.15 110.00H210.45V111.24H190.15zM191.60 108.76H209.00V110.00H191.60zM191.60 107.51H209.00V108.76H191.60zM193.05 106.27H210.45V107.51H193.05zM193.05 105.03H210.45V106.27H193.05zM194.50 103.78H211.90V105.03H194.50zM194.50 102.54H210.45V103.78H194.50zM211.90 102.54H213.35V103.78H211.90zM195.95 101.29H211.90V102.54H195.95zM213.35 101.29H214.80V102.54H213.35zM197.40 100.05H213.35V101.29H197.40zM198.85 98.81H214.80V100.05H198.85zM198.85 97.56H217.70V98.81H198.85zM198.85 96.32H217.70V97.56H198.85zM201.75 95.08H217.70V96.32H201.75zM219.15 95.08H222.05V96.32H219.15zM239.45 95.08H240.90V96.32H239.45zM249.60 95.08H251.05V96.32H249.60zM265.55 95.08H267.00V96.32H265.55zM204.65 93.83H222.05V95.08H204.65zM236.55 93.83H249.60V95.08H236.55zM252.50 93.83H258.30V95.08H252.50zM261.20 93.83H269.90V95.08H261.20zM277.15 93.83H278.60V95.08H277.15zM204.65 92.59H277.15V93.83H204.65zM207.55 91.34H281.50V92.59H207.55zM211.90 90.10H278.60V91.34H211.90zM280.05 90.10H281.50V91.34H280.05zM214.80 88.86H280.05V90.10H214.80zM216.25 87.61H281.50V88.86H216.25zM216.25 86.37H281.50V87.61H216.25zM216.25 85.12H281.50V86.37H216.25zM216.25 83.88H281.50V85.12H216.25zM216.25 82.64H281.50V83.88H216.25zM216.25 81.39H281.50V82.64H216.25zM217.70 80.15H281.50V81.39H217.70zM219.15 78.91H281.50V80.15H219.15zM220.60 77.66H281.50V78.91H220.60zM222.05 76.42H281.50V77.66H222.05zM224.95 75.18H281.50V76.42H224.95zM227.85 73.93H281.50V75.18H227.85zM230.75 72.69H281.50V73.93H230.75zM233.65 71.44H278.60V72.69H233.65zM280.05 71.44H281.50V72.69H280.05zM235.10 70.20H281.50V71.44H235.10zM236.55 68.96H238.00V70.20H236.55zM239.45 68.96H281.50V70.20H239.45zM240.90 67.71H242.35V68.96H240.90zM243.80 67.71H245.25V68.96H243.80zM248.15 67.71H249.60V68.96H248.15zM251.05 67.71H271.35V68.96H251.05zM274.25 67.71H275.70V68.96H274.25zM277.15 67.71H278.60V68.96H277.15zM258.30 66.47H259.75V67.71H258.30zM265.55 66.47H267.00V67.71H265.55zM269.90 66.47H271.35V67.71H269.90zM274.25 66.47H275.70V67.71H274.25zM277.15 66.47H278.60V67.71H277.15zM262.65 65.22H264.10V66.47H262.65z"/>
<path fill="#099dcc" d="M188.70 159.75H190.15V160.99H188.70zM193.05 159.75H194.50V160.99H193.05zM194.50 158.51H195.95V159.75H194.50zM188.70 157.26H191.60V158.51H188.70zM187.25 156.02H188.70V157.26H187.25zM190.15 156.02H191.60V157.26H190.15zM194.50 154.78H195.95V156.02H194.50zM197.40 154.78H198.85V156.02H197.40zM185.80 153.53H188.70V154.78H185.80zM190.15 153.53H193.05V154.78H190.15zM194.50 153.53H195.95V154.78H194.50zM182.90 152.29H184.35V153.53H182.90zM188.70 152.29H190.15V153.53H188.70zM193.05 152.29H195.95V153.53H193.05zM197.40 152.29H198.85V153.53H197.40zM184.35 151.04H185.80V152.29H184.35zM190.15 151.04H197.40V152.29H190.15zM182.90 149.80H185.80V151.04H182.90zM188.70 149.80H194.50V151.04H188.70zM195.95 149.80H198.85V151.04H195.95zM185.80 148.56H187.25V149.80H185.80zM188.70 148.56H197.40V149.80H188.70zM198.85 148.56H201.75V149.80H198.85zM185.80 147.31H195.95V148.56H185.80zM197.40 147.31H198.85V148.56H197.40zM200.30 147.31H201.75V148.56H200.30zM184.35 146.07H200.30V147.31H184.35zM184.35 144.82H203.20V146.07H184.35zM182.90 143.58H201.75V144.82H182.90zM184.35 142.34H201.75V143.58H184.35zM185.80 141.09H203.20V142.34H185.80zM184.35 139.85H201.75V141.09H184.35zM182.90 138.61H203.20V139.85H182.90zM184.35 137.36H203.20V138.61H184.35zM181.45 136.12H201.75V137.36H181.45zM203.20 136.12H204.65V137.36H203.20zM182.90 134.88H204.65V136.12H182.90zM182.90 133.63H203.20V134.88H182.90zM184.35 132.39H206.10V133.63H184.35zM184.35 131.14H203.20V132.39H184.35zM204.65 131.14H206.10V132.39H204.65zM184.35 129.90H204.65V131.14H184.35zM184.35 128.66H201.75V129.90H184.35zM203.20 128.66H204.65V129.90H203.20zM185.80 127.41H204.65V128.66H185.80zM184.35 126.17H206.10V127.41H184.35zM184.35 124.92H204.65V126.17H184.35zM185.80 123.68H207.55V124.92H185.80zM185.80 122.44H206.10V123.68H185.80zM185.80 121.19H206.10V122.44H185.80zM185.80 119.95H206.10V121.19H185.80zM187.25 118.71H207.55V119.95H187.25zM187.25 117.46H206.10V118.71H187.25zM187.25 116.22H204.65V117.46H187.25zM206.10 116.22H207.55V117.46H206.10zM187.25 114.97H206.10V116.22H187.25zM188.70 113.73H207.55V114.97H188.70zM188.70 112.49H207.55V113.73H188.70zM190.15 111.24H207.55V112.49H190.15zM191.60 110.00H206.10V111.24H191.60zM191.60 108.76H207.55V110.00H191.60zM193.05 107.51H207.55V108.76H193.05zM193.05 106.27H210.45V107.51H193.05zM193.05 105.03H210.45V106.27H193.05zM194.50 103.78H210.45V105.03H194.50zM194.50 102.54H209.00V103.78H194.50zM211.90 102.54H213.35V103.78H211.90zM197.40 101.29H210.45V102.54H197.40zM197.40 100.05H211.90V101.29H197.40zM198.85 98.81H213.35V100.05H198.85zM198.85 97.56H211.90V98.81H198.85zM213.35 97.56H214.80V98.81H213.35zM200.30 96.32H214.80V97.56H200.30zM201.75 95.08H216.25V96.32H201.75zM265.55 95.08H267.00V96.32H265.55zM204.65 93.83H219.15V95.08H204.65zM220.60 93.83H222.05V95.08H220.60zM240.90 93.83H242.35V95.08H240.90zM252.50 93.83H255.40V95.08H252.50zM261.20 93.83H262.65V95.08H261.20zM207.55 92.59H224.95V93.83H207.55zM236.55 92.59H243.80V93.83H236.55zM245.25 92.59H246.70V93.83H245.25zM248.15 92.59H251.05V93.83H248.15zM252.50 92.59H255.40V93.83H252.50zM259.75 92.59H264.10V93.83H259.75zM265.55 92.59H269.90V93.83H265.55zM209.00 91.34H265.55V92.59H209.00zM272.80 91.34H275.70V92.59H272.80zM211.90 90.10H271.35V91.34H211.90zM272.80 90.10H274.25V91.34H272.80zM275.70 90.10H277.15V91.34H275.70zM214.80 88.86H277.15V90.10H214.80zM217.70 87.61H281.50V88.86H217.70zM217.70 86.37H280.05V87.61H217.70zM217.70 85.12H281.50V86.37H217.70zM217.70 83.88H278.60V85.12H217.70zM280.05 83.88H281.50V85.12H280.05zM217.70 82.64H281.50V83.88H217.70zM219.15 81.39H280.05V82.64H219.15zM217.70 80.15H281.50V81.39H217.70zM219.15 78.91H281.50V80.15H219.15zM222.05 77.66H281.50V78.91H222.05zM223.50 76.42H281.50V77.66H223.50zM226.40 75.18H281.50V76.42H226.40zM227.85 73.93H277.15V75.18H227.85zM278.60 73.93H281.50V75.18H278.60zM230.75 72.69H274.25V73.93H230.75zM275.70 72.69H280.05V73.93H275.70zM235.10 71.44H274.25V72.69H235.10zM277.15 71.44H278.60V72.69H277.15zM236.55 70.20H267.00V71.44H236.55zM268.45 70.20H269.90V71.44H268.45zM274.25 70.20H275.70V71.44H274.25zM277.15 70.20H278.60V71.44H277.15zM242.35 68.96H243.80V70.20H242.35zM245.25 68.96H248.15V70.20H245.25zM253.95 68.96H258.30V70.20H253.95zM259.75 68.96H268.45V70.20H259.75zM269.90 68.96H272.80V70.20H269.90zM277.15 68.96H278.60V70.20H277.15zM251.05 67.71H259.75V68.96H251.05zM261.20 67.71H262.65V68.96H261.20zM267.00 67.71H269.90V68.96H267.00z"/>
<path fill="#0da7c3" d="M187.25 156.02H188.70V157.26H187.25zM194.50 153.53H195.95V154.78H194.50zM193.05 152.29H194.50V153.53H193.05zM193.05 151.04H194.50V152.29H193.05zM188.70 149.80H190.15V151.04H188.70zM193.05 149.80H194.50V151.04H193.05zM188.70 148.56H190.15V149.80H188.70zM191.60 148.56H193.05V149.80H191.60zM194.50 148.56H195.95V149.80H194.50zM198.85 148.56H200.30V149.80H198.85zM185.80 147.31H188.70V148.56H185.80zM191.60 147.31H195.95V148.56H191.60zM197.40 147.31H198.85V148.56H197.40zM184.35 146.07H185.80V147.31H184.35zM188.70 146.07H193.05V147.31H188.70zM195.95 146.07H198.85V147.31H195.95zM185.80 144.82H187.25V146.07H185.80zM188.70 144.82H190.15V146.07H188.70zM191.60 144.82H197.40V146.07H191.60zM185.80 143.58H187.25V144.82H185.80zM188.70 143.58H200.30V144.82H188.70zM185.80 142.34H200.30V143.58H185.80zM185.80 141.09H197.40V142.34H185.80zM198.85 141.09H200.30V142.34H198.85zM184.35 139.85H201.75V141.09H184.35zM187.25 138.61H198.85V139.85H187.25zM200.30 138.61H201.75V139.85H200.30zM185.80 137.36H198.85V138.61H185.80zM201.75 137.36H203.20V138.61H201.75zM182.90 136.12H200.30V137.36H182.90zM185.80 134.88H201.75V136.12H185.80zM185.80 133.63H201.75V134.88H185.80zM184.35 132.39H204.65V133.63H184.35zM185.80 131.14H203.20V132.39H185.80zM204.65 131.14H206.10V132.39H204.65zM184.35 129.90H185.80V131.14H184.35zM187.25 129.90H204.65V131.14H187.25zM184.35 128.66H201.75V129.90H184.35zM185.80 127.41H203.20V128.66H185.80zM185.80 126.17H201.75V127.41H185.80zM185.80 124.92H204.65V126.17H185.80zM185.80 123.68H204.65V124.92H185.80zM187.25 122.44H204.65V123.68H187.25zM185.80 121.19H204.65V122.44H185.80zM187.25 119.95H206.10V121.19H187.25zM187.25 118.71H206.10V119.95H187.25zM187.25 117.46H188.70V118.71H187.25zM190.15 117.46H204.65V118.71H190.15zM190.15 116.22H204.65V117.46H190.15zM206.10 116.22H207.55V117.46H206.10zM190.15 114.97H204.65V116.22H190.15zM190.15 113.73H207.55V114.97H190.15zM190.15 112.49H206.10V113.73H190.15zM191.60 111.24H204.65V112.49H191.60zM193.05 110.00H206.10V111.24H193.05zM191.60 108.76H193.05V110.00H191.60zM194.50 108.76H206.10V110.00H194.50zM193.05 107.51H206.10V108.76H193.05zM195.95 106.27H207.55V107.51H195.95zM194.50 105.03H207.55V106.27H194.50zM194.50 103.78H209.00V105.03H194.50zM195.95 102.54H209.00V103.78H195.95zM198.85 101.29H209.00V102.54H198.85zM197.40 100.05H211.90V101.29H197.40zM198.85 98.81H200.30V100.05H198.85zM201.75 98.81H210.45V100.05H201.75zM211.90 98.81H213.35V100.05H211.90zM200.30 97.56H210.45V98.81H200.30zM213.35 97.56H214.80V98.81H213.35zM201.75 96.32H211.90V97.56H201.75zM201.75 95.08H216.25V96.32H201.75zM204.65 93.83H216.25V95.08H204.65zM252.50 93.83H253.95V95.08H252.50zM209.00 92.59H224.95V93.83H209.00zM239.45 92.59H243.80V93.83H239.45zM245.25 92.59H246.70V93.83H245.25zM252.50 92.59H253.95V93.83H252.50zM261.20 92.59H264.10V93.83H261.20zM210.45 91.34H227.85V92.59H210.45zM229.30 91.34H230.75V92.59H229.30zM232.20 91.34H233.65V92.59H232.20zM235.10 91.34H236.55V92.59H235.10zM238.00 91.34H239.45V92.59H238.00zM240.90 91.34H242.35V92.59H240.90zM243.80 91.34H246.70V92.59H243.80zM248.15 91.34H261.20V92.59H248.15zM262.65 91.34H265.55V92.59H262.65zM211.90 90.10H261.20V91.34H211.90zM262.65 90.10H265.55V91.34H262.65zM267.00 90.10H268.45V91.34H267.00zM214.80 88.86H271.35V90.10H214.80zM272.80 88.86H275.70V90.10H272.80zM217.70 87.61H271.35V88.86H217.70zM274.25 87.61H275.70V88.86H274.25zM219.15 86.37H275.70V87.61H219.15zM277.15 86.37H278.60V87.61H277.15zM219.15 85.12H277.15V86.37H219.15zM278.60 85.12H280.05V86.37H278.60zM217.70 83.88H277.15V85.12H217.70zM280.05 83.88H281.50V85.12H280.05zM217.70 82.64H280.05V83.88H217.70zM219.15 81.39H280.05V82.64H219.15zM217.70 80.15H281.50V81.39H217.70zM220.60 78.91H280.05V80.15H220.60zM223.50 77.66H280.05V78.91H223.50zM224.95 76.42H278.60V77.66H224.95zM226.40 75.18H278.60V76.42H226.40zM280.05 75.18H281.50V76.42H280.05zM230.75 73.93H277.15V75.18H230.75zM278.60 73.93H280.05V75.18H278.60zM233.65 72.69H274.25V73.93H233.65zM278.60 72.69H280.05V73.93H278.60zM235.10 71.44H253.95V72.69H235.10zM255.40 71.44H259.75V72.69H255.40zM262.65 71.44H268.45V72.69H262.65zM269.90 71.44H271.35V72.69H269.90zM272.80 71.44H274.25V72.69H272.80zM238.00 70.20H246.70V71.44H238.00zM248.15 70.20H253.95V71.44H248.15zM255.40 70.20H261.20V71.44H255.40zM265.55 70.20H267.00V71.44H265.55zM253.95 68.96H255.40V70.20H253.95zM262.65 68.96H264.10V70.20H262.65z"/>
<path fill="#1eafb3" d="M193.05 151.04H194.50V152.29H193.05zM188.70 149.80H190.15V151.04H188.70zM191.60 147.31H193.05V148.56H191.60zM190.15 146.07H191.60V147.31H190.15zM185.80 144.82H187.25V146.07H185.80zM191.60 144.82H193.05V146.07H191.60zM194.50 144.82H195.95V146.07H194.50zM185.80 143.58H187.25V144.82H185.80zM188.70 143.58H190.15V144.82H188.70zM191.60 143.58H193.05V144.82H191.60zM197.40 143.58H200.30V144.82H197.40zM187.25 142.34H195.95V143.58H187.25zM197.40 142.34H198.85V143.58H197.40zM185.80 141.09H191.60V142.34H185.80zM193.05 141.09H195.95V142.34H193.05zM184.35 139.85H185.80V141.09H184.35zM187.25 139.85H197.40V141.09H187.25zM198.85 139.85H200.30V141.09H198.85zM187.25 138.61H188.70V139.85H187.25zM190.15 138.61H198.85V139.85H190.15zM188.70 137.36H197.40V138.61H188.70zM201.75 137.36H203.20V138.61H201.75zM185.80 136.12H200.30V137.36H185.80zM185.80 134.88H195.95V136.12H185.80zM197.40 134.88H201.75V136.12H197.40zM185.80 133.63H198.85V134.88H185.80zM184.35 132.39H200.30V133.63H184.35zM187.25 131.14H201.75V132.39H187.25zM184.35 129.90H185.80V131.14H184.35zM187.25 129.90H201.75V131.14H187.25zM187.25 128.66H200.30V129.90H187.25zM185.80 127.41H203.20V128.66H185.80zM187.25 126.17H201.75V127.41H187.25zM187.25 124.92H204.65V126.17H187.25zM187.25 123.68H204.65V124.92H187.25zM187.25 122.44H203.20V123.68H187.25zM188.70 121.19H203.20V122.44H188.70zM188.70 119.95H204.65V121.19H188.70zM188.70 118.71H203.20V119.95H188.70zM190.15 117.46H204.65V118.71H190.15zM190.15 116.22H204.65V117.46H190.15zM190.15 114.97H203.20V116.22H190.15zM193.05 113.73H204.65V114.97H193.05zM191.60 112.49H206.10V113.73H191.60zM194.50 111.24H204.65V112.49H194.50zM193.05 110.00H206.10V111.24H193.05zM194.50 108.76H206.10V110.00H194.50zM193.05 107.51H206.10V108.76H193.05zM195.95 106.27H207.55V107.51H195.95zM194.50 105.03H207.55V106.27H194.50zM197.40 103.78H207.55V105.03H197.40zM198.85 102.54H207.55V103.78H198.85zM198.85 101.29H200.30V102.54H198.85zM201.75 101.29H209.00V102.54H201.75zM198.85 100.05H210.45V101.29H198.85zM201.75 98.81H209.00V100.05H201.75zM201.75 97.56H210.45V98.81H201.75zM201.75 96.32H204.65V97.56H201.75zM206.10 96.32H211.90V97.56H206.10zM206.10 95.08H213.35V96.32H206.10zM206.10 93.83H213.35V95.08H206.10zM210.45 92.59H219.15V93.83H210.45zM239.45 92.59H240.90V93.83H239.45zM210.45 91.34H227.85V92.59H210.45zM240.90 91.34H242.35V92.59H240.90zM243.80 91.34H245.25V92.59H243.80zM248.15 91.34H249.60V92.59H248.15zM256.85 91.34H258.30V92.59H256.85zM259.75 91.34H261.20V92.59H259.75zM213.35 90.10H239.45V91.34H213.35zM240.90 90.10H246.70V91.34H240.90zM248.15 90.10H251.05V91.34H248.15zM252.50 90.10H253.95V91.34H252.50zM255.40 90.10H256.85V91.34H255.40zM258.30 90.10H261.20V91.34H258.30zM214.80 88.86H262.65V90.10H214.80zM264.10 88.86H265.55V90.10H264.10zM267.00 88.86H271.35V90.10H267.00zM217.70 87.61H256.85V88.86H217.70zM258.30 87.61H265.55V88.86H258.30zM267.00 87.61H271.35V88.86H267.00zM220.60 86.37H272.80V87.61H220.60zM219.15 85.12H272.80V86.37H219.15zM220.60 83.88H271.35V85.12H220.60zM220.60 82.64H269.90V83.88H220.60zM271.35 82.64H272.80V83.88H271.35zM274.25 82.64H275.70V83.88H274.25zM220.60 81.39H278.60V82.64H220.60zM220.60 80.15H274.25V81.39H220.60zM275.70 80.15H280.05V81.39H275.70zM220.60 78.91H278.60V80.15H220.60zM223.50 77.66H278.60V78.91H223.50zM224.95 76.42H272.80V77.66H224.95zM277.15 76.42H278.60V77.66H277.15zM226.40 75.18H267.00V76.42H226.40zM268.45 75.18H274.25V76.42H268.45zM233.65 73.93H269.90V75.18H233.65zM274.25 73.93H275.70V75.18H274.25zM233.65 72.69H258.30V73.93H233.65zM259.75 72.69H268.45V73.93H259.75zM269.90 72.69H272.80V73.93H269.90zM236.55 71.44H238.00V72.69H236.55zM239.45 71.44H243.80V72.69H239.45zM245.25 71.44H251.05V72.69H245.25zM255.40 71.44H256.85V72.69H255.40zM258.30 71.44H259.75V72.69H258.30zM262.65 71.44H267.00V72.69H262.65zM242.35 70.20H243.80V71.44H242.35zM248.15 70.20H249.60V71.44H248.15zM252.50 70.20H253.95V71.44H252.50zM258.30 70.20H259.75V71.44H258.30z"/>
<path fill="#2eb7a4" d="M191.60 144.82H193.05V146.07H191.60zM194.50 144.82H195.95V146.07H194.50zM188.70 142.34H190.15V143.58H188.70zM191.60 142.34H194.50V143.58H191.60zM185.80 141.09H187.25V142.34H185.80zM190.15 141.09H191.60V142.34H190.15zM194.50 141.09H195.95V142.34H194.50zM190.15 139.85H197.40V141.09H190.15zM198.85 139.85H200.30V141.09H198.85zM187.25 138.61H188.70V139.85H187.25zM190.15 138.61H197.40V139.85H190.15zM190.15 137.36H197.40V138.61H190.15zM188.70 136.12H190.15V137.36H188.70zM191.60 136.12H198.85V137.36H191.60zM188.70 134.88H195.95V136.12H188.70zM197.40 134.88H198.85V136.12H197.40zM187.25 133.63H198.85V134.88H187.25zM187.25 132.39H195.95V133.63H187.25zM197.40 132.39H198.85V133.63H197.40zM187.25 131.14H200.30V132.39H187.25zM184.35 129.90H185.80V131.14H184.35zM187.25 129.90H200.30V131.14H187.25zM187.25 128.66H200.30V129.90H187.25zM187.25 127.41H188.70V128.66H187.25zM190.15 127.41H197.40V128.66H190.15zM187.25 126.17H201.75V127.41H187.25zM187.25 124.92H201.75V126.17H187.25zM188.70 123.68H201.75V124.92H188.70zM187.25 122.44H200.30V123.68H187.25zM201.75 122.44H203.20V123.68H201.75zM188.70 121.19H203.20V122.44H188.70zM190.15 119.95H200.30V121.19H190.15zM201.75 119.95H203.20V121.19H201.75zM190.15 118.71H200.30V119.95H190.15zM201.75 118.71H203.20V119.95H201.75zM190.15 117.46H201.75V118.71H190.15zM203.20 117.46H204.65V118.71H203.20zM191.60 116.22H203.20V117.46H191.60zM191.60 114.97H200.30V116.22H191.60zM201.75 114.97H203.20V116.22H201.75zM193.05 113.73H203.20V114.97H193.05zM193.05 112.49H200.30V113.73H193.05zM201.75 112.49H206.10V113.73H201.75zM194.50 111.24H203.20V112.49H194.50zM193.05 110.00H206.10V111.24H193.05zM194.50 108.76H203.20V110.00H194.50zM204.65 108.76H206.10V110.00H204.65zM195.95 107.51H204.65V108.76H195.95zM197.40 106.27H198.85V107.51H197.40zM200.30 106.27H203.20V107.51H200.30zM204.65 106.27H206.10V107.51H204.65zM197.40 105.03H201.75V106.27H197.40zM203.20 105.03H206.10V106.27H203.20zM198.85 103.78H206.10V105.03H198.85zM198.85 102.54H204.65V103.78H198.85zM206.10 102.54H207.55V103.78H206.10zM201.75 101.29H209.00V102.54H201.75zM200.30 100.05H201.75V101.29H200.30zM203.20 100.05H207.55V101.29H203.20zM201.75 98.81H203.20V100.05H201.75zM204.65 98.81H209.00V100.05H204.65zM203.20 97.56H210.45V98.81H203.20zM203.20 96.32H204.65V97.56H203.20zM206.10 96.32H210.45V97.56H206.10zM207.55 95.08H211.90V96.32H207.55zM207.55 93.83H211.90V95.08H207.55zM210.45 92.59H219.15V93.83H210.45zM210.45 91.34H211.90V92.59H210.45zM213.35 91.34H224.95V92.59H213.35zM240.90 91.34H242.35V92.59H240.90zM243.80 91.34H245.25V92.59H243.80zM213.35 90.10H229.30V91.34H213.35zM230.75 90.10H233.65V91.34H230.75zM235.10 90.10H236.55V91.34H235.10zM240.90 90.10H242.35V91.34H240.90zM245.25 90.10H246.70V91.34H245.25zM249.60 90.10H251.05V91.34H249.60zM255.40 90.10H256.85V91.34H255.40zM216.25 88.86H255.40V90.10H216.25zM256.85 88.86H258.30V90.10H256.85zM261.20 88.86H262.65V90.10H261.20zM269.90 88.86H271.35V90.10H269.90zM217.70 87.61H219.15V88.86H217.70zM220.60 87.61H246.70V88.86H220.60zM248.15 87.61H256.85V88.86H248.15zM259.75 87.61H261.20V88.86H259.75zM262.65 87.61H264.10V88.86H262.65zM267.00 87.61H268.45V88.86H267.00zM220.60 86.37H265.55V87.61H220.60zM267.00 86.37H272.80V87.61H267.00zM220.60 85.12H269.90V86.37H220.60zM271.35 85.12H272.80V86.37H271.35zM222.05 83.88H267.00V85.12H222.05zM269.90 83.88H271.35V85.12H269.90zM220.60 82.64H265.55V83.88H220.60zM267.00 82.64H269.90V83.88H267.00zM271.35 82.64H272.80V83.88H271.35zM220.60 81.39H269.90V82.64H220.60zM271.35 81.39H275.70V82.64H271.35zM277.15 81.39H278.60V82.64H277.15zM220.60 80.15H274.25V81.39H220.60zM277.15 80.15H278.60V81.39H277.15zM223.50 78.91H278.60V80.15H223.50zM223.50 77.66H268.45V78.91H223.50zM269.90 77.66H271.35V78.91H269.90zM272.80 77.66H278.60V78.91H272.80zM226.40 76.42H264.10V77.66H226.40zM267.00 76.42H272.80V77.66H267.00zM227.85 75.18H229.30V76.42H227.85zM230.75 75.18H264.10V76.42H230.75zM268.45 75.18H269.90V76.42H268.45zM272.80 75.18H274.25V76.42H272.80zM233.65 73.93H262.65V75.18H233.65zM264.10 73.93H265.55V75.18H264.10zM268.45 73.93H269.90V75.18H268.45zM238.00 72.69H239.45V73.93H238.00zM240.90 72.69H242.35V73.93H240.90zM245.25 72.69H255.40V73.93H245.25zM256.85 72.69H258.30V73.93H256.85zM261.20 72.69H264.10V73.93H261.20zM267.00 72.69H268.45V73.93H267.00zM239.45 71.44H242.35V72.69H239.45zM249.60 71.44H251.05V72.69H249.60zM258.30 71.44H259.75V72.69H258.30zM264.10 71.44H265.55V72.69H264.10z"/>
<path fill="#52ba91" d="M185.80 141.09H187.25V142.34H185.80zM190.15 141.09H191.60V142.34H190.15zM193.05 139.85H194.50V141.09H193.05zM193.05 138.61H194.50V139.85H193.05zM190.15 137.36H191.60V138.61H190.15zM193.05 137.36H195.95V138.61H193.05zM193.05 136.12H197.40V137.36H193.05zM188.70 134.88H195.95V136.12H188.70zM188.70 133.63H190.15V134.88H188.70zM191.60 133.63H193.05V134.88H191.60zM194.50 133.63H195.95V134.88H194.50zM197.40 133.63H198.85V134.88H197.40zM187.25 132.39H190.15V133.63H187.25zM191.60 132.39H195.95V133.63H191.60zM187.25 131.14H190.15V132.39H187.25zM191.60 131.14H194.50V132.39H191.60zM195.95 131.14H197.40V132.39H195.95zM187.25 129.90H195.95V131.14H187.25zM197.40 129.90H200.30V131.14H197.40zM188.70 128.66H197.40V129.90H188.70zM198.85 128.66H200.30V129.90H198.85zM187.25 127.41H188.70V128.66H187.25zM190.15 127.41H197.40V128.66H190.15zM190.15 126.17H191.60V127.41H190.15zM193.05 126.17H200.30V127.41H193.05zM187.25 124.92H190.15V126.17H187.25zM191.60 124.92H197.40V126.17H191.60zM198.85 124.92H201.75V126.17H198.85zM190.15 123.68H198.85V124.92H190.15zM200.30 123.68H201.75V124.92H200.30zM190.15 122.44H197.40V123.68H190.15zM190.15 121.19H200.30V122.44H190.15zM201.75 121.19H203.20V122.44H201.75zM190.15 119.95H200.30V121.19H190.15zM190.15 118.71H200.30V119.95H190.15zM201.75 118.71H203.20V119.95H201.75zM190.15 117.46H201.75V118.71H190.15zM191.60 116.22H193.05V117.46H191.60zM194.50 116.22H203.20V117.46H194.50zM191.60 114.97H200.30V116.22H191.60zM193.05 113.73H203.20V114.97H193.05zM195.95 112.49H197.40V113.73H195.95zM198.85 112.49H200.30V113.73H198.85zM201.75 112.49H203.20V113.73H201.75zM194.50 111.24H201.75V112.49H194.50zM195.95 110.00H204.65V111.24H195.95zM194.50 108.76H200.30V110.00H194.50zM201.75 108.76H203.20V110.00H201.75zM198.85 107.51H203.20V108.76H198.85zM200.30 106.27H203.20V107.51H200.30zM200.30 105.03H201.75V106.27H200.30zM203.20 105.03H204.65V106.27H203.20zM201.75 103.78H206.10V105.03H201.75zM203.20 102.54H204.65V103.78H203.20zM203.20 101.29H204.65V102.54H203.20zM203.20 100.05H207.55V101.29H203.20zM204.65 98.81H206.10V100.05H204.65zM207.55 98.81H209.00V100.05H207.55zM204.65 97.56H209.00V98.81H204.65zM206.10 96.32H207.55V97.56H206.10zM209.00 95.08H210.45V96.32H209.00zM207.55 93.83H211.90V95.08H207.55zM210.45 92.59H211.90V93.83H210.45zM213.35 92.59H214.80V93.83H213.35zM213.35 91.34H222.05V92.59H213.35zM214.80 90.10H229.30V91.34H214.80zM235.10 90.10H236.55V91.34H235.10zM216.25 88.86H239.45V90.10H216.25zM240.90 88.86H249.60V90.10H240.90zM252.50 88.86H253.95V90.10H252.50zM256.85 88.86H258.30V90.10H256.85zM220.60 87.61H246.70V88.86H220.60zM248.15 87.61H249.60V88.86H248.15zM251.05 87.61H253.95V88.86H251.05zM255.40 87.61H256.85V88.86H255.40zM222.05 86.37H258.30V87.61H222.05zM259.75 86.37H264.10V87.61H259.75zM271.35 86.37H272.80V87.61H271.35zM224.95 85.12H259.75V86.37H224.95zM261.20 85.12H262.65V86.37H261.20zM264.10 85.12H265.55V86.37H264.10zM271.35 85.12H272.80V86.37H271.35zM222.05 83.88H259.75V85.12H222.05zM261.20 83.88H267.00V85.12H261.20zM222.05 82.64H265.55V83.88H222.05zM267.00 82.64H268.45V83.88H267.00zM222.05 81.39H267.00V82.64H222.05zM274.25 81.39H275.70V82.64H274.25zM222.05 80.15H269.90V81.39H222.05zM271.35 80.15H274.25V81.39H271.35zM223.50 78.91H271.35V80.15H223.50zM226.40 77.66H264.10V78.91H226.40zM265.55 77.66H268.45V78.91H265.55zM226.40 76.42H261.20V77.66H226.40zM262.65 76.42H264.10V77.66H262.65zM267.00 76.42H269.90V77.66H267.00zM230.75 75.18H256.85V76.42H230.75zM259.75 75.18H262.65V76.42H259.75zM233.65 73.93H248.15V75.18H233.65zM251.05 73.93H253.95V75.18H251.05zM255.40 73.93H259.75V75.18H255.40zM261.20 73.93H262.65V75.18H261.20zM240.90 72.69H242.35V73.93H240.90zM245.25 72.69H246.70V73.93H245.25zM249.60 72.69H251.05V73.93H249.60zM252.50 72.69H253.95V73.93H252.50zM261.20 72.69H262.65V73.93H261.20zM258.30 71.44H259.75V72.69H258.30z"/>
<path fill="#74bd80" d="M193.05 139.85H194.50V141.09H193.05zM194.50 137.36H195.95V138.61H194.50zM194.50 134.88H195.95V136.12H194.50zM188.70 132.39H190.15V133.63H188.70zM191.60 132.39H194.50V133.63H191.60zM187.25 129.90H188.70V131.14H187.25zM190.15 129.90H191.60V131.14H190.15zM193.05 129.90H194.50V131.14H193.05zM190.15 128.66H191.60V129.90H190.15zM193.05 128.66H197.40V129.90H193.05zM190.15 127.41H195.95V128.66H190.15zM190.15 126.17H191.60V127.41H190.15zM194.50 126.17H195.95V127.41H194.50zM191.60 124.92H197.40V126.17H191.60zM200.30 124.92H201.75V126.17H200.30zM190.15 123.68H193.05V124.92H190.15zM194.50 123.68H195.95V124.92H194.50zM190.15 122.44H194.50V123.68H190.15zM195.95 122.44H197.40V123.68H195.95zM191.60 121.19H200.30V122.44H191.60zM191.60 119.95H195.95V121.19H191.60zM197.40 119.95H198.85V121.19H197.40zM191.60 118.71H200.30V119.95H191.60zM193.05 117.46H200.30V118.71H193.05zM194.50 116.22H198.85V117.46H194.50zM193.05 114.97H197.40V116.22H193.05zM198.85 114.97H200.30V116.22H198.85zM194.50 113.73H197.40V114.97H194.50zM198.85 113.73H201.75V114.97H198.85zM195.95 112.49H197.40V113.73H195.95zM195.95 111.24H197.40V112.49H195.95zM195.95 110.00H197.40V111.24H195.95zM200.30 110.00H201.75V111.24H200.30zM194.50 108.76H195.95V110.00H194.50zM197.40 108.76H200.30V110.00H197.40zM198.85 107.51H201.75V108.76H198.85zM200.30 105.03H201.75V106.27H200.30zM203.20 102.54H204.65V103.78H203.20zM203.20 100.05H204.65V101.29H203.20zM204.65 97.56H206.10V98.81H204.65zM210.45 93.83H211.90V95.08H210.45zM216.25 91.34H220.60V92.59H216.25zM214.80 90.10H226.40V91.34H214.80zM227.85 90.10H229.30V91.34H227.85zM217.70 88.86H233.65V90.10H217.70zM235.10 88.86H236.55V90.10H235.10zM242.35 88.86H246.70V90.10H242.35zM252.50 88.86H253.95V90.10H252.50zM220.60 87.61H245.25V88.86H220.60zM248.15 87.61H249.60V88.86H248.15zM222.05 86.37H251.05V87.61H222.05zM252.50 86.37H253.95V87.61H252.50zM255.40 86.37H256.85V87.61H255.40zM224.95 85.12H253.95V86.37H224.95zM255.40 85.12H259.75V86.37H255.40zM223.50 83.88H259.75V85.12H223.50zM261.20 83.88H264.10V85.12H261.20zM265.55 83.88H267.00V85.12H265.55zM224.95 82.64H264.10V83.88H224.95zM223.50 81.39H267.00V82.64H223.50zM222.05 80.15H224.95V81.39H222.05zM226.40 80.15H267.00V81.39H226.40zM268.45 80.15H269.90V81.39H268.45zM272.80 80.15H274.25V81.39H272.80zM223.50 78.91H271.35V80.15H223.50zM226.40 77.66H259.75V78.91H226.40zM262.65 77.66H264.10V78.91H262.65zM267.00 77.66H268.45V78.91H267.00zM229.30 76.42H259.75V77.66H229.30zM232.20 75.18H249.60V76.42H232.20zM251.05 75.18H253.95V76.42H251.05zM255.40 75.18H256.85V76.42H255.40zM236.55 73.93H238.00V75.18H236.55zM239.45 73.93H242.35V75.18H239.45zM245.25 73.93H248.15V75.18H245.25zM252.50 73.93H253.95V75.18H252.50zM255.40 73.93H258.30V75.18H255.40zM240.90 72.69H242.35V73.93H240.90z"/>
<path fill="#96be71" d="M190.15 129.90H191.60V131.14H190.15zM194.50 128.66H195.95V129.90H194.50zM193.05 127.41H194.50V128.66H193.05zM195.95 124.92H197.40V126.17H195.95zM190.15 123.68H191.60V124.92H190.15zM194.50 123.68H195.95V124.92H194.50zM193.05 122.44H194.50V123.68H193.05zM195.95 122.44H197.40V123.68H195.95zM191.60 121.19H193.05V122.44H191.60zM194.50 121.19H198.85V122.44H194.50zM194.50 119.95H195.95V121.19H194.50zM194.50 118.71H200.30V119.95H194.50zM194.50 117.46H195.95V118.71H194.50zM197.40 117.46H198.85V118.71H197.40zM195.95 116.22H197.40V117.46H195.95zM195.95 114.97H197.40V116.22H195.95zM195.95 112.49H197.40V113.73H195.95zM195.95 111.24H197.40V112.49H195.95zM200.30 107.51H201.75V108.76H200.30zM216.25 91.34H219.15V92.59H216.25zM216.25 90.10H223.50V91.34H216.25zM224.95 90.10H226.40V91.34H224.95zM219.15 88.86H232.20V90.10H219.15zM235.10 88.86H236.55V90.10H235.10zM220.60 87.61H240.90V88.86H220.60zM242.35 87.61H245.25V88.86H242.35zM223.50 86.37H249.60V87.61H223.50zM224.95 85.12H253.95V86.37H224.95zM223.50 83.88H259.75V85.12H223.50zM261.20 83.88H262.65V85.12H261.20zM265.55 83.88H267.00V85.12H265.55zM224.95 82.64H258.30V83.88H224.95zM259.75 82.64H262.65V83.88H259.75zM223.50 81.39H265.55V82.64H223.50zM226.40 80.15H264.10V81.39H226.40zM265.55 80.15H267.00V81.39H265.55zM224.95 78.91H229.30V80.15H224.95zM230.75 78.91H249.60V80.15H230.75zM251.05 78.91H259.75V80.15H251.05zM264.10 78.91H265.55V80.15H264.10zM227.85 77.66H253.95V78.91H227.85zM255.40 77.66H258.30V78.91H255.40zM230.75 76.42H239.45V77.66H230.75zM242.35 76.42H246.70V77.66H242.35zM248.15 76.42H256.85V77.66H248.15zM240.90 75.18H245.25V76.42H240.90zM248.15 75.18H249.60V76.42H248.15zM252.50 75.18H253.95V76.42H252.50zM239.45 73.93H240.90V75.18H239.45zM245.25 73.93H248.15V75.18H245.25zM252.50 73.93H253.95V75.18H252.50z"/>
<path fill="#b4bd65" d="M195.95 122.44H197.40V123.68H195.95zM197.40 121.19H198.85V122.44H197.40zM195.95 118.71H198.85V119.95H195.95zM197.40 117.46H198.85V118.71H197.40zM195.95 116.22H197.40V117.46H195.95zM219.15 90.10H220.60V91.34H219.15zM222.05 90.10H223.50V91.34H222.05zM224.95 90.10H226.40V91.34H224.95zM220.60 88.86H232.20V90.10H220.60zM220.60 87.61H222.05V88.86H220.60zM223.50 87.61H240.90V88.86H223.50zM223.50 86.37H246.70V87.61H223.50zM224.95 85.12H226.40V86.37H224.95zM227.85 85.12H249.60V86.37H227.85zM252.50 85.12H253.95V86.37H252.50zM226.40 83.88H255.40V85.12H226.40zM256.85 83.88H258.30V85.12H256.85zM224.95 82.64H258.30V83.88H224.95zM259.75 82.64H262.65V83.88H259.75zM223.50 81.39H224.95V82.64H223.50zM226.40 81.39H259.75V82.64H226.40zM261.20 81.39H262.65V82.64H261.20zM226.40 80.15H264.10V81.39H226.40zM265.55 80.15H267.00V81.39H265.55zM226.40 78.91H229.30V80.15H226.40zM230.75 78.91H249.60V80.15H230.75zM251.05 78.91H259.75V80.15H251.05zM264.10 78.91H265.55V80.15H264.10zM227.85 77.66H229.30V78.91H227.85zM230.75 77.66H248.15V78.91H230.75zM249.60 77.66H252.50V78.91H249.60zM255.40 77.66H256.85V78.91H255.40zM233.65 76.42H239.45V77.66H233.65zM242.35 76.42H245.25V77.66H242.35zM248.15 76.42H249.60V77.66H248.15zM252.50 76.42H253.95V77.66H252.50zM255.40 76.42H256.85V77.66H255.40zM240.90 75.18H242.35V76.42H240.90zM243.80 75.18H245.25V76.42H243.80z"/>
<path fill="#d1bb59" d="M195.95 116.22H197.40V117.46H195.95zM219.15 90.10H220.60V91.34H219.15zM222.05 88.86H229.30V90.10H222.05zM223.50 87.61H238.00V88.86H223.50zM239.45 87.61H240.90V88.86H239.45zM224.95 86.37H242.35V87.61H224.95zM245.25 86.37H246.70V87.61H245.25zM229.30 85.12H246.70V86.37H229.30zM248.15 85.12H249.60V86.37H248.15zM252.50 85.12H253.95V86.37H252.50zM227.85 83.88H255.40V85.12H227.85zM256.85 83.88H258.30V85.12H256.85zM227.85 82.64H230.75V83.88H227.85zM232.20 82.64H256.85V83.88H232.20zM259.75 82.64H261.20V83.88H259.75zM226.40 81.39H255.40V82.64H226.40zM258.30 81.39H259.75V82.64H258.30zM261.20 81.39H262.65V82.64H261.20zM226.40 80.15H227.85V81.39H226.40zM229.30 80.15H256.85V81.39H229.30zM258.30 80.15H259.75V81.39H258.30zM227.85 78.91H229.30V80.15H227.85zM230.75 78.91H238.00V80.15H230.75zM239.45 78.91H249.60V80.15H239.45zM251.05 78.91H252.50V80.15H251.05zM253.95 78.91H258.30V80.15H253.95zM230.75 77.66H233.65V78.91H230.75zM235.10 77.66H240.90V78.91H235.10zM242.35 77.66H248.15V78.91H242.35zM235.10 76.42H239.45V77.66H235.10zM242.35 76.42H245.25V77.66H242.35zM248.15 76.42H249.60V77.66H248.15z"/>
<path fill="#e3c04a" d="M222.05 88.86H224.95V90.10H222.05zM226.40 88.86H227.85V90.10H226.40zM224.95 87.61H230.75V88.86H224.95zM232.20 87.61H235.10V88.86H232.20zM227.85 86.37H242.35V87.61H227.85zM229.30 85.12H246.70V86.37H229.30zM248.15 85.12H249.60V86.37H248.15zM252.50 85.12H253.95V86.37H252.50zM230.75 83.88H253.95V85.12H230.75zM232.20 82.64H240.90V83.88H232.20zM242.35 82.64H255.40V83.88H242.35zM259.75 82.64H261.20V83.88H259.75zM226.40 81.39H227.85V82.64H226.40zM229.30 81.39H230.75V82.64H229.30zM232.20 81.39H233.65V82.64H232.20zM235.10 81.39H239.45V82.64H235.10zM240.90 81.39H249.60V82.64H240.90zM252.50 81.39H253.95V82.64H252.50zM258.30 81.39H259.75V82.64H258.30zM226.40 80.15H227.85V81.39H226.40zM229.30 80.15H230.75V81.39H229.30zM232.20 80.15H251.05V81.39H232.20zM255.40 80.15H256.85V81.39H255.40zM233.65 78.91H238.00V80.15H233.65zM240.90 78.91H246.70V80.15H240.90zM248.15 78.91H249.60V80.15H248.15zM251.05 78.91H252.50V80.15H251.05zM230.75 77.66H232.20V78.91H230.75zM235.10 77.66H238.00V78.91H235.10zM243.80 77.66H245.25V78.91H243.80zM242.35 76.42H243.80V77.66H242.35z"/>
<path fill="#f5c63a" d="M222.05 88.86H224.95V90.10H222.05zM226.40 87.61H230.75V88.86H226.40zM232.20 87.61H235.10V88.86H232.20zM227.85 86.37H240.90V87.61H227.85zM230.75 85.12H246.70V86.37H230.75zM232.20 83.88H249.60V85.12H232.20zM251.05 83.88H252.50V85.12H251.05zM233.65 82.64H235.10V83.88H233.65zM236.55 82.64H240.90V83.88H236.55zM242.35 82.64H249.60V83.88H242.35zM251.05 82.64H253.95V83.88H251.05zM235.10 81.39H239.45V82.64H235.10zM240.90 81.39H243.80V82.64H240.90zM258.30 81.39H259.75V82.64H258.30zM229.30 80.15H230.75V81.39H229.30zM232.20 80.15H236.55V81.39H232.20zM238.00 80.15H248.15V81.39H238.00zM255.40 80.15H256.85V81.39H255.40zM235.10 78.91H236.55V80.15H235.10zM240.90 78.91H243.80V80.15H240.90zM245.25 78.91H246.70V80.15H245.25zM251.05 78.91H252.50V80.15H251.05z"/>
<path fill="#fdd32a" d="M222.05 88.86H224.95V90.10H222.05zM226.40 87.61H230.75V88.86H226.40zM232.20 87.61H233.65V88.86H232.20zM227.85 86.37H230.75V87.61H227.85zM232.20 86.37H238.00V87.61H232.20zM239.45 86.37H240.90V87.61H239.45zM232.20 85.12H246.70V86.37H232.20zM232.20 83.88H249.60V85.12H232.20zM233.65 82.64H235.10V83.88H233.65zM236.55 82.64H238.00V83.88H236.55zM242.35 82.64H243.80V83.88H242.35zM245.25 82.64H249.60V83.88H245.25zM238.00 81.39H239.45V82.64H238.00zM232.20 80.15H233.65V81.39H232.20zM238.00 80.15H242.35V81.39H238.00zM245.25 80.15H246.70V81.39H245.25zM235.10 78.91H236.55V80.15H235.10zM240.90 78.91H242.35V80.15H240.90z"/>
<path fill="#fbe81c" d="M227.85 86.37H230.75V87.61H227.85zM233.65 86.37H236.55V87.61H233.65zM239.45 86.37H240.90V87.61H239.45zM232.20 85.12H246.70V86.37H232.20zM232.20 83.88H233.65V85.12H232.20zM236.55 83.88H243.80V85.12H236.55zM245.25 83.88H246.70V85.12H245.25zM236.55 82.64H238.00V83.88H236.55zM245.25 82.64H249.60V83.88H245.25zM240.90 78.91H242.35V80.15H240.90z"/>
<path fill="#f9fb0e" d="M227.85 86.37H230.75V87.61H227.85zM235.10 86.37H236.55V87.61H235.10zM232.20 85.12H238.00V86.37H232.20zM239.45 85.12H243.80V86.37H239.45zM232.20 83.88H233.65V85.12H232.20zM238.00 83.88H239.45V85.12H238.00zM240.90 83.88H243.80V85.12H240.90zM245.25 83.88H246.70V85.12H245.25zM236.55 82.64H238.00V83.88H236.55zM246.70 82.64H248.15V83.88H246.70z"/>
</g>
<path d="M49.50 209.5v-5M49.50 10.5v5M49.5 209.50h8M281.5 209.50h-8M55.30 209.5v-2.5M55.30 10.5v2.5M49.5 204.53h4M281.5 204.53h-4M61.10 209.5v-2.5M61.10 10.5v2.5M49.5 199.55h4M281.5 199.55h-4M66.90 209.5v-2.5M66.90 10.5v2.5M49.5 194.57h4M281.5 194.57h-4M72.70 209.5v-2.5M72.70 10.5v2.5M49.5 189.60h4M281.5 189.60h-4M78.50 209.5v-5M78.50 10.5v5M49.5 184.62h8M281.5 184.62h-8M84.30 209.5v-2.5M84.30 10.5v2.5M49.5 179.65h4M281.5 179.65h-4M90.10 209.5v-2.5M90.10 10.5v2.5M49.5 174.68h4M281.5 174.68h-4M95.90 209.5v-2.5M95.90 10.5v2.5M49.5 169.70h4M281.5 169.70h-4M101.70 209.5v-2.5M101.70 10.5v2.5M49.5 164.72h4M281.5 164.72h-4M107.50 209.5v-5M107.50 10.5v5M49.5 159.75h8M281.5 159.75h-8M113.30 209.5v-2.5M113.30 10.5v2.5M49.5 154.78h4M281.5 154.78h-4M119.10 209.5v-2.5M119.10 10.5v2.5M49.5 149.80h4M281.5 149.80h-4M124.90 209.5v-2.5M124.90 10.5v2.5M49.5 144.82h4M281.5 144.82h-4M130.70 209.5v-2.5M130.70 10.5v2.5M49.5 139.85h4M281.5 139.85h-4M136.50 209.5v-5M136.50 10.5v5M49.5 134.88h8M281.5 134.88h-8M142.30 209.5v-2.5M142.30 10.5v2.5M49.5 129.90h4M281.5 129.90h-4M148.10 209.5v-2.5M148.10 10.5v2.5M49.5 124.92h4M281.5 124.92h-4M153.90 209.5v-2.5M153.90 10.5v2.5M49.5 119.95h4M281.5 119.95h-4M159.70 209.5v-2.5M159.70 10.5v2.5M49.5 114.97h4M281.5 114.97h-4M165.50 209.5v-5M165.50 10.5v5M49.5 110.00h8M281.5 110.00h-8M171.30 209.5v-2.5M171.30 10.5v2.5M49.5 105.03h4M281.5 105.03h-4M177.10 209.5v-2.5M177.10 10.5v2.5M49.5 100.05h4M281.5 100.05h-4M182.90 209.5v-2.5M182.90 10.5v2.5M49.5 95.08h4M281.5 95.08h-4M188.70 209.5v-2.5M188.70 10.5v2.5M49.5 90.10h4M281.5 90.10h-4M194.50 209.5v-5M194.50 10.5v5M49.5 85.12h8M281.5 85.12h-8M200.30 209.5v-2.5M200.30 10.5v2.5M49.5 80.15h4M281.5 80.15h-4M206.10 209.5v-2.5M206.10 10.5v2.5M49.5 75.18h4M281.5 75.18h-4M211.90 209.5v-2.5M211.90 10.5v2.5M49.5 70.20h4M281.5 70.20h-4M217.70 209.5v-2.5M217.70 10.5v2.5M49.5 65.22h4M281.5 65.22h-4M223.50 209.5v-5M223.50 10.5v5M49.5 60.25h8M281.5 60.25h-8M229.30 209.5v-2.5M229.30 10.5v2.5M49.5 55.28h4M281.5 55.28h-4M235.10 209.5v-2.5M235.10 10.5v2.5M49.5 50.30h4M281.5 50.30h-4M240.90 209.5v-2.5M240.90 10.5v2.5M49.5 45.32h4M281.5 45.32h-4M246.70 209.5v-2.5M246.70 10.5v2.5M49.5 40.35h4M281.5 40.35h-4M252.50 209.5v-5M252.50 10.5v5M49.5 35.38h8M281.5 35.38h-8M258.30 209.5v-2.5M258.30 10.5v2.5M49.5 30.40h4M281.5 30.40h-4M264.10 209.5v-2.5M264.10 10.5v2.5M49.5 25.43h4M281.5 25.43h-4M269.90 209.5v-2.5M269.90 10.5v2.5M49.5 20.45h4M281.5 20.45h-4M275.70 209.5v-2.5M275.70 10.5v2.5M49.5 15.47h4M281.5 15.47h-4M281.50 209.5v-5M281.50 10.5v5M49.5 10.50h8M281.5 10.50h-8" stroke="#000" stroke-width="1" fill="none"/>
<rect x="49.5" y="10.5" width="232.0" height="199.0" fill="none" stroke="#000" stroke-width="1"/>
<g stroke="#ff0000" stroke-width="1.5" stroke-dasharray="3.5,2.6" fill="none">
<line x1="165.50" y1="10.5" x2="165.50" y2="209.5"/>
<line x1="223.50" y1="10.5" x2="223.50" y2="209.5"/>
<line x1="49.5" y1="102.54" x2="281.5" y2="102.54"/>
<line x1="49.5" y1="209.5" x2="281.5" y2="209.5"/>
</g>
<g font-size="12" fill="#000">
<text x="49.50" y="224.2" text-anchor="middle">40</text>
<text x="47.6" y="213.60" text-anchor="end">40</text>
<text x="78.50" y="224.2" text-anchor="middle">50</text>
<text x="47.6" y="188.72" text-anchor="end">50</text>
<text x="107.50" y="224.2" text-anchor="middle">60</text>
<text x="47.6" y="163.85" text-anchor="end">60</text>
<text x="136.50" y="224.2" text-anchor="middle">70</text>
<text x="47.6" y="138.97" text-anchor="end">70</text>
<text x="165.50" y="224.2" text-anchor="middle">80</text>
<text x="47.6" y="114.10" text-anchor="end">80</text>
<text x="194.50" y="224.2" text-anchor="middle">90</text>
<text x="47.6" y="89.22" text-anchor="end">90</text>
<text x="223.50" y="224.2" text-anchor="middle">100</text>
<text x="47.6" y="64.35" text-anchor="end">100</text>
<text x="252.50" y="224.2" text-anchor="middle">110</text>
<text x="47.6" y="39.48" text-anchor="end">110</text>
<text x="281.50" y="224.2" text-anchor="middle">120</text>
<text x="47.6" y="14.60" text-anchor="end">120</text>
</g>
<g shape-rendering="crispEdges">
<rect x="282" y="199.53" width="13.5" height="10.57" fill="rgb(39, 61, 168)"/>
<rect x="282" y="189.55" width="13.5" height="10.57" fill="rgb(23, 81, 203)"/>
<rect x="282" y="179.57" width="13.5" height="10.57" fill="rgb(16, 99, 220)"/>
<rect x="282" y="169.60" width="13.5" height="10.57" fill="rgb(18, 113, 217)"/>
<rect x="282" y="159.62" width="13.5" height="10.57" fill="rgb(20, 128, 214)"/>
<rect x="282" y="149.65" width="13.5" height="10.57" fill="rgb(14, 142, 209)"/>
<rect x="282" y="139.68" width="13.5" height="10.57" fill="rgb(9, 157, 204)"/>
<rect x="282" y="129.70" width="13.5" height="10.57" fill="rgb(13, 167, 195)"/>
<rect x="282" y="119.72" width="13.5" height="10.57" fill="rgb(30, 175, 179)"/>
<rect x="282" y="109.75" width="13.5" height="10.57" fill="rgb(46, 183, 164)"/>
<rect x="282" y="99.78" width="13.5" height="10.57" fill="rgb(82, 186, 145)"/>
<rect x="282" y="89.80" width="13.5" height="10.57" fill="rgb(116, 189, 128)"/>
<rect x="282" y="79.82" width="13.5" height="10.57" fill="rgb(150, 190, 113)"/>
<rect x="282" y="69.85" width="13.5" height="10.57" fill="rgb(180, 189, 101)"/>
<rect x="282" y="59.88" width="13.5" height="10.57" fill="rgb(209, 187, 89)"/>
<rect x="282" y="49.90" width="13.5" height="10.57" fill="rgb(227, 192, 74)"/>
<rect x="282" y="39.93" width="13.5" height="10.57" fill="rgb(245, 198, 58)"/>
<rect x="282" y="29.95" width="13.5" height="10.57" fill="rgb(253, 211, 42)"/>
<rect x="282" y="19.97" width="13.5" height="10.57" fill="rgb(251, 232, 28)"/>
<rect x="282" y="10.00" width="13.5" height="10.57" fill="rgb(249, 251, 14)"/>
</g>
<g font-size="12">
<text x="298.1" y="214.40">0</text>
<text x="298.1" y="197.43">20</text>
<text x="298.1" y="180.46">40</text>
<text x="298.1" y="163.49">60</text>
<text x="298.1" y="146.51">80</text>
<text x="298.1" y="129.54">100</text>
<text x="298.1" y="112.57">120</text>
<text x="298.1" y="95.60">140</text>
<text x="298.1" y="78.63">160</text>
<text x="298.1" y="61.66">180</text>
<text x="298.1" y="44.68">200</text>
<text x="298.1" y="27.71">220</text>
</g>
<path d="M295.5 209.50h-8.5M295.5 192.53h-8.5M295.5 175.56h-8.5M295.5 158.59h-8.5M295.5 141.61h-8.5M295.5 124.64h-8.5M295.5 107.67h-8.5M295.5 90.70h-8.5M295.5 73.73h-8.5M295.5 56.76h-8.5M295.5 39.78h-8.5M295.5 22.81h-8.5" stroke="#000" stroke-width="1" fill="none"/>
<line x1="295.5" y1="10" x2="295.5" y2="209.5" stroke="#000" stroke-width="0.6"/>
<text transform="translate(338.3,54.6) rotate(-90)" font-size="14.6">Events</text>
<text transform="translate(13.8,65.3) rotate(-90)" font-size="15">m<tspan font-size="10.5" dy="4.4">ee</tspan><tspan dy="-4.4"> [GeV]</tspan></text>
<text x="223.4" y="244.8" font-size="14.3">m<tspan font-size="10" dy="4.2">ee<tspan font-family="Liberation Serif" font-size="11">γ</tspan></tspan><tspan dy="-4.2"> [GeV]</tspan></text>
<text x="616.2" y="245.1" font-size="14.3">m<tspan font-size="10" dy="4.2">ee<tspan font-family="Liberation Serif" font-size="11">γ</tspan></tspan><tspan dy="-4.2"> [GeV]</tspan></text>
<text transform="translate(369.1,54.6) rotate(-90)" font-size="14.6">Events</text>
<text x="63.6" y="28" font-size="12" font-weight="bold" font-style="italic" letter-spacing="0.5">ATLAS</text>
<path d="M62.60 42.30l1.00 -0.6l0.90 4.20l1.20 -8.60h6.20" fill="none" stroke="#000" stroke-width="0.85" stroke-linejoin="miter"/>
<text x="66.60" y="45.9" font-size="10.5" letter-spacing="0.16">s=13 TeV, 36.1 fb<tspan font-size="7.3" dy="-4.5" dx="0.8" letter-spacing="0.3">-1</tspan></text>
<text x="61.0" y="62.3" font-size="10.5">Z</text>
<path d="M68.6 60.3H76.9M74.6 58.1L77.2 60.3L74.6 62.5" fill="none" stroke="#000" stroke-width="0.9"/>
<text x="78.2" y="62.3" font-size="10.5">ee<tspan font-family="Liberation Serif" font-size="11.5">γ</tspan></text>
<line x1="500.06" y1="93.2" x2="500.06" y2="209" stroke="#888" stroke-width="1.1" stroke-dasharray="1.5,2.1"/>
<line x1="638.81" y1="93.2" x2="638.81" y2="209" stroke="#888" stroke-width="1.1" stroke-dasharray="1.5,2.1"/>
<path d="M396.00 145.17H401.55V147.62H407.10V146.91H412.65V143.05H418.20V141.10H423.75V140.94H429.30V141.81H434.85V138.67H440.40V137.99H445.95V138.70H451.50V136.22H457.05V136.27H462.60V135.58H468.15V131.88H473.70V127.99H479.25V129.25H484.80V126.39H490.35V122.83H495.90V120.87H501.45V116.76H507.00V110.68H512.55V105.50H518.10V102.01H523.65V98.50H529.20V91.65H534.75V85.71H540.30V80.74H545.85V75.86H551.40V70.24H556.95V65.96H562.50V62.68H568.05V61.93H573.60V61.69H579.15V63.59H584.70V66.58H590.25V73.48H595.80V80.62H601.35V87.49H606.90V96.62H612.45V103.59H618.00V111.22H623.55V115.64H629.10V120.04H634.65V122.45H640.20V124.57H645.75V129.46H651.30V132.23H656.85V131.09H662.40V134.12H667.95V136.45H673.50" fill="none" stroke="#aaa" stroke-width="1.8"/>
<path d="M396.00 155.20H401.55V158.80H407.10V158.80H412.65V154.90H418.20V152.50H423.75V151.90H429.30V156.70H434.85V152.50H440.40V150.50H445.95V153.10H451.50V149.80H457.05V153.80H462.60V154.20H468.15V150.40H473.70V149.50H479.25V149.50H484.80V151.50H490.35V148.90H495.90V148.20H501.45V148.40H507.00V145.50H512.55V141.70H518.10V140.70H523.65V143.80H529.20V134.30H534.75V133.90H540.30V132.40H545.85V134.30H551.40V130.50H556.95V127.50H562.50V128.10H568.05V129.30H573.60V123.60H579.15V123.30H584.70V120.00H590.25V122.70H595.80V123.10H601.35V124.30H606.90V128.70H612.45V125.10H618.00V128.70H623.55V128.80H629.10V131.40H634.65V131.40H640.20V132.00H645.75V135.80H651.30V137.00H656.85V134.40H662.40V137.90H667.95V139.30H673.50" fill="none" stroke="#00f" stroke-width="1.5" stroke-dasharray="1.5,1.6"/>
<path d="M396.00 172.30H401.55V172.60H407.10V170.70H412.65V166.90H418.20V165.70H423.75V166.30H429.30V161.40H434.85V159.60H440.40V160.80H445.95V158.90H451.50V157.50H457.05V153.00H462.60V151.30H468.15V147.70H473.70V141.40H479.25V143.60H484.80V137.50H490.35V133.40H495.90V130.80H501.45V124.80H507.00V117.60H512.55V112.00H518.10V107.80H523.65V102.80H529.20V96.50H534.75V89.50H540.30V84.00H545.85V78.30H551.40V72.50H556.95V68.10H562.50V64.50H568.05V63.60H573.60V63.80H579.15V65.90H584.70V69.60H590.25V77.10H595.80V85.50H601.35V93.80H606.90V104.50H612.45V117.00H618.00V128.00H623.55V137.50H629.10V144.70H634.65V151.90H640.20V157.90H645.75V166.20H651.30V175.20H656.85V182.40H662.40V182.40H667.95V191.20H673.50" fill="none" stroke="#f00" stroke-width="1.5" stroke-dasharray="3.3,2.6"/>
<g fill="#000">
<circle cx="398.77" cy="143.20" r="2.2"/>
<circle cx="404.32" cy="145.20" r="2.2"/>
<circle cx="409.88" cy="143.20" r="2.2"/>
<circle cx="415.43" cy="139.80" r="2.2"/>
<circle cx="420.98" cy="138.60" r="2.2"/>
<circle cx="426.52" cy="138.00" r="2.2"/>
<circle cx="432.07" cy="139.80" r="2.2"/>
<circle cx="437.62" cy="136.20" r="2.2"/>
<circle cx="443.18" cy="135.10" r="2.2"/>
<circle cx="448.73" cy="135.70" r="2.2"/>
<circle cx="454.27" cy="133.70" r="2.2"/>
<circle cx="459.82" cy="134.60" r="2.2"/>
<circle cx="465.38" cy="133.90" r="2.2"/>
<circle cx="470.93" cy="132.20" r="2.2"/>
<circle cx="476.48" cy="126.70" r="2.2"/>
<circle cx="482.02" cy="126.50" r="2.2"/>
<circle cx="487.57" cy="124.40" r="2.2"/>
<circle cx="493.12" cy="122.20" r="2.2"/>
<circle cx="498.68" cy="117.60" r="2.2"/>
<circle cx="504.23" cy="117.60" r="2.2"/>
<circle cx="509.77" cy="111.20" r="2.2"/>
<circle cx="515.33" cy="105.30" r="2.2"/>
<circle cx="520.88" cy="101.20" r="2.2"/>
<circle cx="526.42" cy="97.80" r="2.2"/>
<circle cx="531.98" cy="91.80" r="2.2"/>
<circle cx="537.52" cy="86.70" r="2.2"/>
<circle cx="543.08" cy="81.30" r="2.2"/>
<circle cx="548.62" cy="75.90" r="2.2"/>
<circle cx="554.17" cy="70.20" r="2.2"/>
<circle cx="559.73" cy="65.90" r="2.2"/>
<circle cx="565.27" cy="62.40" r="2.2"/>
<circle cx="570.83" cy="61.60" r="2.2"/>
<circle cx="576.38" cy="61.70" r="2.2"/>
<circle cx="581.92" cy="63.70" r="2.2"/>
<circle cx="587.48" cy="67.20" r="2.2"/>
<circle cx="593.02" cy="74.40" r="2.2"/>
<circle cx="598.58" cy="81.20" r="2.2"/>
<circle cx="604.12" cy="89.20" r="2.2"/>
<circle cx="609.67" cy="97.70" r="2.2"/>
<circle cx="615.23" cy="102.80" r="2.2"/>
<circle cx="620.77" cy="111.20" r="2.2"/>
<circle cx="626.33" cy="115.60" r="2.2"/>
<circle cx="631.88" cy="120.60" r="2.2"/>
<circle cx="637.42" cy="123.50" r="2.2"/>
<circle cx="642.98" cy="127.10" r="2.2"/>
<circle cx="648.52" cy="129.60" r="2.2"/>
<circle cx="654.08" cy="137.70" r="2.2"/>
<circle cx="659.62" cy="133.00" r="2.2"/>
<circle cx="665.17" cy="137.00" r="2.2"/>
<circle cx="670.72" cy="138.90" r="2.2"/>
</g>
<path d="M396.00 209.5v-6M396.00 10.5v6M402.94 209.5v-3M402.94 10.5v3M409.88 209.5v-3M409.88 10.5v3M416.81 209.5v-3M416.81 10.5v3M423.75 209.5v-3M423.75 10.5v3M430.69 209.5v-6M430.69 10.5v6M437.62 209.5v-3M437.62 10.5v3M444.56 209.5v-3M444.56 10.5v3M451.50 209.5v-3M451.50 10.5v3M458.44 209.5v-3M458.44 10.5v3M465.38 209.5v-6M465.38 10.5v6M472.31 209.5v-3M472.31 10.5v3M479.25 209.5v-3M479.25 10.5v3M486.19 209.5v-3M486.19 10.5v3M493.12 209.5v-3M493.12 10.5v3M500.06 209.5v-6M500.06 10.5v6M507.00 209.5v-3M507.00 10.5v3M513.94 209.5v-3M513.94 10.5v3M520.88 209.5v-3M520.88 10.5v3M527.81 209.5v-3M527.81 10.5v3M534.75 209.5v-6M534.75 10.5v6M541.69 209.5v-3M541.69 10.5v3M548.62 209.5v-3M548.62 10.5v3M555.56 209.5v-3M555.56 10.5v3M562.50 209.5v-3M562.50 10.5v3M569.44 209.5v-6M569.44 10.5v6M576.38 209.5v-3M576.38 10.5v3M583.31 209.5v-3M583.31 10.5v3M590.25 209.5v-3M590.25 10.5v3M597.19 209.5v-3M597.19 10.5v3M604.12 209.5v-6M604.12 10.5v6M611.06 209.5v-3M611.06 10.5v3M618.00 209.5v-3M618.00 10.5v3M624.94 209.5v-3M624.94 10.5v3M631.88 209.5v-3M631.88 10.5v3M638.81 209.5v-6M638.81 10.5v6M645.75 209.5v-3M645.75 10.5v3M652.69 209.5v-3M652.69 10.5v3M659.62 209.5v-3M659.62 10.5v3M666.56 209.5v-3M666.56 10.5v3M673.50 209.5v-6M673.50 10.5v6M396.0 206.90h8M673.5 206.90h-8M396.0 189.77h4M673.5 189.77h-4M396.0 179.75h4M673.5 179.75h-4M396.0 172.64h4M673.5 172.64h-4M396.0 167.13h4M673.5 167.13h-4M396.0 162.62h4M673.5 162.62h-4M396.0 158.81h4M673.5 158.81h-4M396.0 155.51h4M673.5 155.51h-4M396.0 152.60h4M673.5 152.60h-4M396.0 150.00h8M673.5 150.00h-8M396.0 132.87h4M673.5 132.87h-4M396.0 122.85h4M673.5 122.85h-4M396.0 115.74h4M673.5 115.74h-4M396.0 110.23h4M673.5 110.23h-4M396.0 105.72h4M673.5 105.72h-4M396.0 101.91h4M673.5 101.91h-4M396.0 98.61h4M673.5 98.61h-4M396.0 95.70h4M673.5 95.70h-4M396.0 93.10h8M673.5 93.10h-8M396.0 75.97h4M673.5 75.97h-4M396.0 65.95h4M673.5 65.95h-4M396.0 58.84h4M673.5 58.84h-4M396.0 53.33h4M673.5 53.33h-4M396.0 48.82h4M673.5 48.82h-4M396.0 45.01h4M673.5 45.01h-4M396.0 41.71h4M673.5 41.71h-4M396.0 38.80h4M673.5 38.80h-4M396.0 36.20h8M673.5 36.20h-8M396.0 19.07h4M673.5 19.07h-4" stroke="#000" stroke-width="1" fill="none"/>
<rect x="396.0" y="10.5" width="277.5" height="199.0" fill="none" stroke="#000" stroke-width="1"/>
<g font-size="12">
<text x="396.00" y="223.9" text-anchor="middle">65</text>
<text x="430.69" y="223.9" text-anchor="middle">70</text>
<text x="465.38" y="223.9" text-anchor="middle">75</text>
<text x="500.06" y="223.9" text-anchor="middle">80</text>
<text x="534.75" y="223.9" text-anchor="middle">85</text>
<text x="569.44" y="223.9" text-anchor="middle">90</text>
<text x="604.12" y="223.9" text-anchor="middle">95</text>
<text x="638.81" y="223.9" text-anchor="middle">100</text>
<text x="673.50" y="223.9" text-anchor="middle">105</text>
<text x="393.2" y="211.80" text-anchor="end">10</text>
<text x="388.4" y="155.20" text-anchor="end">10</text><text x="388.6" y="149.90" font-size="8">2</text>
<text x="388.4" y="98.30" text-anchor="end">10</text><text x="388.6" y="93.00" font-size="8">3</text>
<text x="388.4" y="41.40" text-anchor="end">10</text><text x="388.6" y="36.10" font-size="8">4</text>
</g>
<text x="417.7" y="27.4" font-size="12" font-weight="bold" font-style="italic" letter-spacing="0.5">ATLAS</text>
<path d="M415.60 40.50l0.97 -0.6l0.87 4.08l1.17 -8.35h6.02" fill="none" stroke="#000" stroke-width="0.83" stroke-linejoin="miter"/>
<text x="419.49" y="44.0" font-size="10.2" letter-spacing="0.16">s=13 TeV, 36.1 fb<tspan font-size="7.1" dy="-4.4" dx="0.8" letter-spacing="0.3">-1</tspan></text>
<text x="415.4" y="58.5" font-size="10.2">10 GeV &lt; E<tspan font-size="7.3" dy="2.8">T</tspan><tspan dy="-2.8"> &lt; 15 GeV</tspan></text>
<text x="415.4" y="72.4" font-size="10.2">Loose isolation</text>
<g font-size="12.1">
<text x="620.6" y="28.3">Z(ee)<tspan font-family="Liberation Serif" font-size="13">γ</tspan></text>
<text x="620.8" y="40.3">Bkg</text>
<text x="620.8" y="52.4">Sum</text>
<text x="620.8" y="64.3">Data</text>
</g>
<line x1="606" y1="25.9" x2="615.5" y2="25.9" stroke="#f00" stroke-width="1.5" stroke-dasharray="3,3"/>
<line x1="606.2" y1="38.4" x2="618.7" y2="38.4" stroke="#00f" stroke-width="1.5" stroke-dasharray="1.5,1.6"/>
<line x1="606.2" y1="49.8" x2="618.1" y2="49.8" stroke="#aaa" stroke-width="1.8"/>
<line x1="606.2" y1="62" x2="618.1" y2="62" stroke="#000" stroke-width="1.5"/>
<circle cx="612.3" cy="62" r="1.9" fill="#000"/>
</svg></body></html>
